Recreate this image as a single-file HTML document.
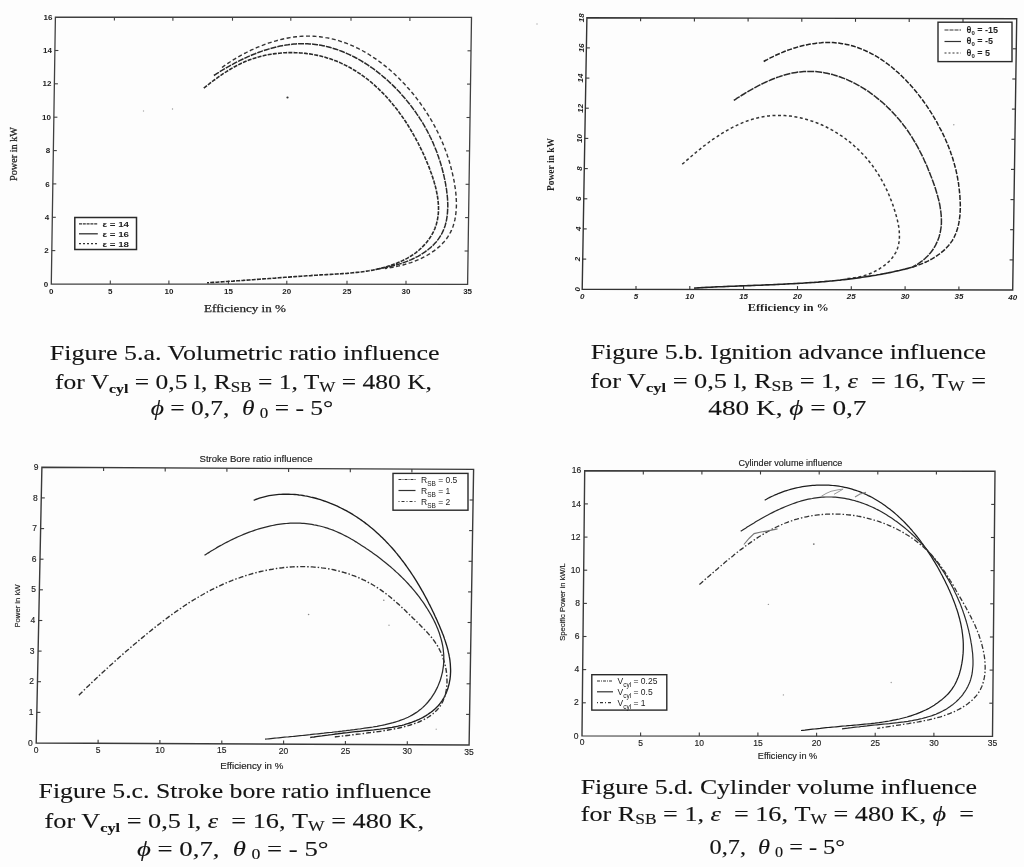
<!DOCTYPE html>
<html><head><meta charset="utf-8"><title>Figure 5</title>
<style>html,body{margin:0;padding:0;background:#fff;width:1024px;height:867px;overflow:hidden}svg{display:block}</style>
</head><body>
<svg width="1024" height="867" viewBox="0 0 1024 867">
<rect width="1024" height="867" fill="#fdfdfd"/>
<polygon points="55.4,17.1 471.5,17.4 467.6,284.4 51.3,284.0" fill="none" stroke="#404040" stroke-width="1.30"/>
<text x="51.3" y="293.5" text-anchor="middle" font-size="8" font-weight="bold" font-family="Liberation Sans, sans-serif" fill="#222">0</text>
<line x1="110.3" y1="284.1" x2="110.3" y2="280.6" stroke="#404040" stroke-width="1.1"/>
<line x1="114.4" y1="17.1" x2="114.4" y2="20.6" stroke="#404040" stroke-width="1.1"/>
<text x="110.3" y="293.6" text-anchor="middle" font-size="8" font-weight="bold" font-family="Liberation Sans, sans-serif" fill="#222">5</text>
<line x1="168.9" y1="284.1" x2="168.9" y2="280.6" stroke="#404040" stroke-width="1.1"/>
<line x1="172.9" y1="17.2" x2="172.9" y2="20.7" stroke="#404040" stroke-width="1.1"/>
<text x="168.9" y="293.6" text-anchor="middle" font-size="8" font-weight="bold" font-family="Liberation Sans, sans-serif" fill="#222">10</text>
<line x1="228.5" y1="284.2" x2="228.5" y2="280.7" stroke="#404040" stroke-width="1.1"/>
<line x1="232.5" y1="17.2" x2="232.5" y2="20.7" stroke="#404040" stroke-width="1.1"/>
<text x="228.5" y="293.7" text-anchor="middle" font-size="8" font-weight="bold" font-family="Liberation Sans, sans-serif" fill="#222">15</text>
<line x1="286.8" y1="284.2" x2="286.8" y2="280.7" stroke="#404040" stroke-width="1.1"/>
<line x1="290.8" y1="17.3" x2="290.8" y2="20.8" stroke="#404040" stroke-width="1.1"/>
<text x="286.8" y="293.7" text-anchor="middle" font-size="8" font-weight="bold" font-family="Liberation Sans, sans-serif" fill="#222">20</text>
<line x1="347.0" y1="284.3" x2="347.0" y2="280.8" stroke="#404040" stroke-width="1.1"/>
<line x1="351.0" y1="17.3" x2="351.0" y2="20.8" stroke="#404040" stroke-width="1.1"/>
<text x="347.0" y="293.8" text-anchor="middle" font-size="8" font-weight="bold" font-family="Liberation Sans, sans-serif" fill="#222">25</text>
<line x1="406.0" y1="284.3" x2="406.0" y2="280.8" stroke="#404040" stroke-width="1.1"/>
<line x1="409.9" y1="17.4" x2="409.9" y2="20.9" stroke="#404040" stroke-width="1.1"/>
<text x="406.0" y="293.8" text-anchor="middle" font-size="8" font-weight="bold" font-family="Liberation Sans, sans-serif" fill="#222">30</text>
<text x="467.6" y="293.9" text-anchor="middle" font-size="8" font-weight="bold" font-family="Liberation Sans, sans-serif" fill="#222">35</text>
<text x="48.3" y="286.6" text-anchor="end" font-size="8" font-weight="bold" font-family="Liberation Sans, sans-serif" fill="#222">0</text>
<line x1="51.8" y1="250.6" x2="55.3" y2="250.6" stroke="#404040" stroke-width="1.1"/>
<line x1="468.1" y1="251.0" x2="464.6" y2="251.0" stroke="#404040" stroke-width="1.1"/>
<text x="48.8" y="253.2" text-anchor="end" font-size="8" font-weight="bold" font-family="Liberation Sans, sans-serif" fill="#222">2</text>
<line x1="52.3" y1="217.3" x2="55.8" y2="217.3" stroke="#404040" stroke-width="1.1"/>
<line x1="468.6" y1="217.6" x2="465.1" y2="217.6" stroke="#404040" stroke-width="1.1"/>
<text x="49.3" y="219.9" text-anchor="end" font-size="8" font-weight="bold" font-family="Liberation Sans, sans-serif" fill="#222">4</text>
<line x1="52.8" y1="183.9" x2="56.3" y2="183.9" stroke="#404040" stroke-width="1.1"/>
<line x1="469.1" y1="184.3" x2="465.6" y2="184.3" stroke="#404040" stroke-width="1.1"/>
<text x="49.8" y="186.5" text-anchor="end" font-size="8" font-weight="bold" font-family="Liberation Sans, sans-serif" fill="#222">6</text>
<line x1="53.3" y1="150.6" x2="56.8" y2="150.6" stroke="#404040" stroke-width="1.1"/>
<line x1="469.6" y1="150.9" x2="466.1" y2="150.9" stroke="#404040" stroke-width="1.1"/>
<text x="50.3" y="153.2" text-anchor="end" font-size="8" font-weight="bold" font-family="Liberation Sans, sans-serif" fill="#222">8</text>
<line x1="53.9" y1="117.2" x2="57.4" y2="117.2" stroke="#404040" stroke-width="1.1"/>
<line x1="470.0" y1="117.5" x2="466.5" y2="117.5" stroke="#404040" stroke-width="1.1"/>
<text x="50.9" y="119.8" text-anchor="end" font-size="8" font-weight="bold" font-family="Liberation Sans, sans-serif" fill="#222">10</text>
<line x1="54.4" y1="83.8" x2="57.9" y2="83.8" stroke="#404040" stroke-width="1.1"/>
<line x1="470.5" y1="84.1" x2="467.0" y2="84.1" stroke="#404040" stroke-width="1.1"/>
<text x="51.4" y="86.4" text-anchor="end" font-size="8" font-weight="bold" font-family="Liberation Sans, sans-serif" fill="#222">12</text>
<line x1="54.9" y1="50.5" x2="58.4" y2="50.5" stroke="#404040" stroke-width="1.1"/>
<line x1="471.0" y1="50.8" x2="467.5" y2="50.8" stroke="#404040" stroke-width="1.1"/>
<text x="51.9" y="53.1" text-anchor="end" font-size="8" font-weight="bold" font-family="Liberation Sans, sans-serif" fill="#222">14</text>
<text x="52.4" y="19.7" text-anchor="end" font-size="8" font-weight="bold" font-family="Liberation Sans, sans-serif" fill="#222">16</text>
<text transform="translate(17.0,154.0) rotate(-90)" font-size="11.00" font-family="'Liberation Serif', serif" text-anchor="middle" textLength="54.0" lengthAdjust="spacingAndGlyphs" fill="#222" stroke="#222" stroke-width="0.25">Power in kW</text>
<text x="204.0" y="312.0" font-size="11.00" font-family="'Liberation Serif', serif" text-anchor="start" textLength="82.0" lengthAdjust="spacingAndGlyphs" fill="#222" stroke="#222" stroke-width="0.25">Efficiency in %</text>
<path d="M203.8,88.0 L205.4,86.8 L207.0,85.5 L208.6,84.3 L210.1,83.1 L211.7,81.9 L213.4,80.7 L215.0,79.5 L216.6,78.3 L218.2,77.1 L219.9,76.0 L221.5,74.9 L223.2,73.7 L224.8,72.6 L226.5,71.6 L228.2,70.5 L229.9,69.5 L231.7,68.4 L233.4,67.4 L235.1,66.5 L236.9,65.5 L238.7,64.6 L240.5,63.7 L242.3,62.9 L244.1,62.1 L245.9,61.3 L247.8,60.5 L249.7,59.8 L251.6,59.1 L253.5,58.5 L255.4,57.9 L257.4,57.3 L259.3,56.8 L261.3,56.2 L263.2,55.8 L265.2,55.3 L267.2,54.9 L269.2,54.5 L271.2,54.2 L273.2,53.9 L275.3,53.6 L277.3,53.4 L279.3,53.2 L281.4,53.0 L283.4,52.8 L285.4,52.7 L287.5,52.6 L289.5,52.6 L291.5,52.6 L293.6,52.6 L295.6,52.7 L297.6,52.7 L299.7,52.9 L301.7,53.0 L303.7,53.2 L305.7,53.4 L307.7,53.7 L309.7,53.9 L311.7,54.2 L313.7,54.6 L315.6,55.0 L317.6,55.4 L319.5,55.8 L321.4,56.3 L323.3,56.8 L325.2,57.3 L327.1,57.9 L329.0,58.5 L330.8,59.1 L332.7,59.7 L334.5,60.4 L336.3,61.1 L338.1,61.9 L339.9,62.6 L341.6,63.4 L343.4,64.3 L345.1,65.1 L346.9,66.0 L348.6,66.9 L350.3,67.8 L352.0,68.8 L353.6,69.8 L355.3,70.8 L356.9,71.8 L358.5,72.9 L360.2,73.9 L361.8,75.1 L363.3,76.2 L364.9,77.3 L366.5,78.5 L368.0,79.7 L369.5,80.9 L371.1,82.2 L372.6,83.5 L374.0,84.7 L375.5,86.1 L377.0,87.4 L378.4,88.7 L379.8,90.1 L381.2,91.5 L382.6,92.9 L384.0,94.3 L385.4,95.8 L386.8,97.3 L388.1,98.7 L389.4,100.2 L390.7,101.8 L392.0,103.3 L393.3,104.9 L394.6,106.4 L395.8,108.0 L397.1,109.6 L398.3,111.2 L399.5,112.9 L400.7,114.5 L401.9,116.2 L403.1,117.9 L404.2,119.6 L405.4,121.3 L406.5,123.0 L407.6,124.7 L408.7,126.5 L409.8,128.2 L410.8,130.0 L411.9,131.8 L412.9,133.6 L413.9,135.4 L415.0,137.2 L415.9,139.0 L416.9,140.8 L417.9,142.7 L418.8,144.5 L419.8,146.4 L420.7,148.3 L421.6,150.1 L422.5,152.0 L423.4,153.9 L424.2,155.8 L425.1,157.7 L425.9,159.7 L426.7,161.6 L427.5,163.5 L428.3,165.4 L429.1,167.4 L429.8,169.3 L430.5,171.3 L431.3,173.2 L431.9,175.2 L432.6,177.1 L433.2,179.1 L433.9,181.1 L434.4,183.0 L435.0,185.0 L435.5,186.9 L436.0,188.9 L436.4,190.8 L436.8,192.8 L437.2,194.7 L437.5,196.7 L437.8,198.6 L438.0,200.5 L438.2,202.4 L438.4,204.4 L438.5,206.3 L438.5,208.1 L438.5,210.0 L438.4,211.9 L438.3,213.8 L438.1,215.6 L437.8,217.5 L437.5,219.3 L437.2,221.1 L436.7,222.9 L436.2,224.7 L435.6,226.4 L435.0,228.2 L434.3,229.9 L433.5,231.6 L432.6,233.3 L431.7,235.0 L430.7,236.6 L429.6,238.3 L428.5,239.9 L427.3,241.4 L426.1,242.9 L424.8,244.4 L423.4,245.9 L422.0,247.3 L420.6,248.7 L419.1,250.0 L417.5,251.3 L416.0,252.6 L414.3,253.8 L412.7,254.9 L411.0,256.0 L409.2,257.1 L407.5,258.1 L405.7,259.1 L403.8,260.0 L402.0,260.9 L400.1,261.8 L398.2,262.6 L396.3,263.4 L394.4,264.1 L392.4,264.8 L390.5,265.5 L388.5,266.1 L386.6,266.7 L384.6,267.3 L382.7,267.8 L380.7,268.3 L378.7,268.8 L376.8,269.3 L374.8,269.7 L372.8,270.1 L370.8,270.4 L368.8,270.8 L366.8,271.1 L364.8,271.4 L362.8,271.7 L360.8,272.0 L358.8,272.2 L356.8,272.4 L354.8,272.6 L352.8,272.8 L350.8,273.0 L348.8,273.2 L346.8,273.4 L344.8,273.5 L342.8,273.6 L340.8,273.8 L338.7,273.9 L336.7,274.0 L334.7,274.1 L332.7,274.3 L330.7,274.4 L328.7,274.5 L326.7,274.6 L324.7,274.7 L322.7,274.8 L320.7,274.9 L318.7,275.1 L316.7,275.2 L314.7,275.3 L312.7,275.4 L310.7,275.6 L308.8,275.7 L306.8,275.8 L304.8,276.0 L302.8,276.1 L300.8,276.2 L298.8,276.4 L296.8,276.5 L294.9,276.6 L292.9,276.8 L290.9,276.9 L288.9,277.1 L286.9,277.2 L284.9,277.3 L283.0,277.5 L281.0,277.6 L279.0,277.8 L277.0,277.9 L275.0,278.1 L273.0,278.2 L271.0,278.4 L269.1,278.5 L267.1,278.7 L265.1,278.8 L263.1,278.9 L261.1,279.1 L259.1,279.2 L257.1,279.4 L255.1,279.5 L253.1,279.7 L251.1,279.8 L249.1,280.0 L247.1,280.1 L245.1,280.2 L243.1,280.4 L241.1,280.5 L239.1,280.7 L237.1,280.8 L235.1,280.9 L233.1,281.1 L231.1,281.2 L229.1,281.3 L227.1,281.5 L225.1,281.6 L223.1,281.8 L221.1,281.9 L219.0,282.0 L217.0,282.2 L215.0,282.3 L213.0,282.4 L211.0,282.5 L209.0,282.7 L207.0,282.8" fill="none" stroke="#2a2a2a" stroke-width="1.60" stroke-dasharray="4 1.2" stroke-linecap="butt" stroke-linejoin="round" opacity="1.00"/>
<path d="M213.9,75.5 L215.6,74.4 L217.2,73.3 L218.9,72.3 L220.6,71.2 L222.3,70.2 L224.0,69.1 L225.8,68.1 L227.5,67.1 L229.3,66.1 L231.1,65.1 L232.9,64.2 L234.7,63.2 L236.5,62.2 L238.3,61.3 L240.1,60.4 L242.0,59.5 L243.8,58.6 L245.7,57.8 L247.5,56.9 L249.4,56.1 L251.3,55.3 L253.2,54.5 L255.1,53.8 L257.0,53.0 L258.9,52.3 L260.8,51.6 L262.7,50.9 L264.6,50.3 L266.6,49.7 L268.5,49.1 L270.5,48.5 L272.4,48.0 L274.3,47.5 L276.3,47.0 L278.2,46.5 L280.2,46.1 L282.2,45.7 L284.1,45.4 L286.1,45.0 L288.0,44.8 L290.0,44.5 L291.9,44.3 L293.9,44.1 L295.9,43.9 L297.8,43.8 L299.8,43.7 L301.7,43.7 L303.7,43.7 L305.6,43.7 L307.5,43.8 L309.5,43.9 L311.4,44.0 L313.4,44.2 L315.3,44.4 L317.2,44.7 L319.1,45.0 L321.0,45.3 L322.9,45.7 L324.8,46.1 L326.7,46.6 L328.6,47.0 L330.5,47.5 L332.4,48.1 L334.3,48.7 L336.1,49.3 L338.0,49.9 L339.8,50.6 L341.7,51.3 L343.5,52.0 L345.3,52.8 L347.1,53.6 L348.9,54.4 L350.7,55.2 L352.5,56.1 L354.3,57.0 L356.1,58.0 L357.8,58.9 L359.6,59.9 L361.3,60.9 L363.0,62.0 L364.8,63.0 L366.5,64.1 L368.1,65.2 L369.8,66.4 L371.5,67.5 L373.2,68.7 L374.8,69.9 L376.4,71.1 L378.0,72.4 L379.6,73.7 L381.2,74.9 L382.8,76.3 L384.4,77.6 L385.9,78.9 L387.5,80.3 L389.0,81.7 L390.5,83.1 L392.0,84.5 L393.4,85.9 L394.9,87.4 L396.3,88.8 L397.7,90.3 L399.2,91.8 L400.5,93.3 L401.9,94.9 L403.3,96.4 L404.6,97.9 L405.9,99.5 L407.2,101.1 L408.5,102.7 L409.8,104.3 L411.0,105.9 L412.2,107.5 L413.4,109.1 L414.6,110.8 L415.8,112.4 L416.9,114.1 L418.1,115.7 L419.2,117.4 L420.2,119.1 L421.3,120.7 L422.4,122.4 L423.4,124.1 L424.4,125.8 L425.4,127.6 L426.3,129.3 L427.3,131.0 L428.2,132.8 L429.1,134.5 L429.9,136.3 L430.8,138.0 L431.6,139.8 L432.5,141.6 L433.3,143.4 L434.0,145.2 L434.8,147.0 L435.5,148.9 L436.3,150.7 L437.0,152.5 L437.6,154.4 L438.3,156.3 L438.9,158.2 L439.6,160.1 L440.2,162.0 L440.8,163.9 L441.3,165.8 L441.9,167.8 L442.4,169.7 L442.9,171.7 L443.4,173.7 L443.9,175.7 L444.3,177.7 L444.8,179.8 L445.2,181.8 L445.6,183.8 L445.9,185.9 L446.3,188.0 L446.6,190.0 L446.8,192.1 L447.1,194.1 L447.3,196.2 L447.5,198.3 L447.6,200.3 L447.7,202.4 L447.8,204.4 L447.8,206.4 L447.7,208.4 L447.6,210.4 L447.5,212.4 L447.3,214.4 L447.1,216.3 L446.8,218.2 L446.5,220.1 L446.1,222.0 L445.6,223.9 L445.1,225.7 L444.5,227.4 L443.8,229.2 L443.1,230.9 L442.3,232.6 L441.5,234.2 L440.5,235.8 L439.5,237.4 L438.5,238.9 L437.4,240.4 L436.2,241.9 L434.9,243.3 L433.6,244.7 L432.3,246.0 L430.9,247.3 L429.4,248.5 L427.9,249.8 L426.3,250.9 L424.7,252.1 L423.1,253.2 L421.4,254.3 L419.7,255.3 L418.0,256.3 L416.2,257.2 L414.4,258.1 L412.6,259.0 L410.7,259.9 L408.8,260.7 L406.9,261.4 L405.0,262.1 L403.0,262.8 L401.1,263.5 L399.1,264.1 L397.1,264.7 L395.1,265.3 L393.1,265.8 L391.1,266.3 L389.0,266.8 L387.0,267.2 L385.0,267.6 L383.0,268.1 L381.0,268.4 L378.9,268.8 L376.9,269.2 L374.9,269.5" fill="none" stroke="#2a2a2a" stroke-width="1.50" stroke-dasharray="6 1" stroke-linecap="butt" stroke-linejoin="round" opacity="1.00"/>
<path d="M222.0,67.5 L223.5,66.4 L225.0,65.3 L226.6,64.2 L228.2,63.1 L229.9,62.0 L231.5,60.9 L233.2,59.9 L234.9,58.9 L236.6,57.8 L238.3,56.8 L240.1,55.8 L241.9,54.9 L243.7,53.9 L245.5,53.0 L247.3,52.0 L249.1,51.1 L251.0,50.2 L252.8,49.4 L254.7,48.5 L256.6,47.7 L258.5,46.9 L260.4,46.1 L262.4,45.4 L264.3,44.6 L266.2,43.9 L268.2,43.2 L270.2,42.6 L272.1,42.0 L274.1,41.4 L276.1,40.8 L278.1,40.2 L280.1,39.7 L282.1,39.2 L284.1,38.8 L286.1,38.4 L288.1,38.0 L290.1,37.6 L292.1,37.3 L294.1,37.0 L296.0,36.8 L298.0,36.6 L300.0,36.4 L302.0,36.2 L304.0,36.1 L306.0,36.1 L308.0,36.1 L309.9,36.1 L311.9,36.1 L313.9,36.2 L315.8,36.4 L317.8,36.5 L319.7,36.7 L321.6,37.0 L323.6,37.2 L325.5,37.6 L327.4,37.9 L329.3,38.3 L331.2,38.7 L333.1,39.1 L335.0,39.6 L336.8,40.1 L338.7,40.7 L340.6,41.3 L342.4,41.9 L344.2,42.5 L346.1,43.2 L347.9,43.9 L349.7,44.6 L351.5,45.4 L353.3,46.2 L355.1,47.0 L356.9,47.8 L358.6,48.7 L360.4,49.6 L362.1,50.5 L363.9,51.5 L365.6,52.5 L367.3,53.5 L369.0,54.5 L370.7,55.6 L372.3,56.7 L374.0,57.8 L375.7,58.9 L377.3,60.0 L378.9,61.2 L380.5,62.4 L382.2,63.6 L383.7,64.9 L385.3,66.1 L386.9,67.4 L388.4,68.7 L390.0,70.0 L391.5,71.3 L393.0,72.7 L394.5,74.1 L396.0,75.5 L397.5,76.9 L398.9,78.3 L400.3,79.7 L401.8,81.2 L403.2,82.7 L404.6,84.1 L405.9,85.6 L407.3,87.2 L408.7,88.7 L410.0,90.2 L411.3,91.8 L412.6,93.3 L413.9,94.9 L415.2,96.5 L416.4,98.1 L417.6,99.7 L418.9,101.4 L420.1,103.0 L421.2,104.6 L422.4,106.3 L423.5,107.9 L424.7,109.6 L425.8,111.3 L426.9,113.0 L427.9,114.6 L429.0,116.3 L430.0,118.1 L431.1,119.8 L432.1,121.5 L433.0,123.2 L434.0,125.0 L434.9,126.7 L435.9,128.5 L436.8,130.3 L437.7,132.0 L438.5,133.8 L439.4,135.6 L440.2,137.4 L441.0,139.2 L441.8,141.1 L442.6,142.9 L443.4,144.7 L444.1,146.6 L444.8,148.5 L445.5,150.3 L446.2,152.2 L446.9,154.1 L447.5,156.0 L448.2,157.9 L448.8,159.9 L449.4,161.8 L449.9,163.7 L450.5,165.7 L451.0,167.7 L451.5,169.6 L452.0,171.6 L452.5,173.6 L452.9,175.6 L453.4,177.6 L453.8,179.7 L454.2,181.7 L454.5,183.7 L454.8,185.8 L455.2,187.8 L455.4,189.9 L455.7,191.9 L455.9,194.0 L456.1,196.0 L456.2,198.1 L456.3,200.1 L456.4,202.1 L456.4,204.1 L456.4,206.1 L456.3,208.1 L456.2,210.1 L456.0,212.1 L455.8,214.0 L455.5,215.9 L455.2,217.8 L454.9,219.7 L454.4,221.6 L453.9,223.4 L453.4,225.2 L452.8,227.0 L452.1,228.7 L451.4,230.4 L450.6,232.1 L449.7,233.7 L448.8,235.3 L447.8,236.9 L446.7,238.5 L445.6,239.9 L444.4,241.4 L443.1,242.8 L441.8,244.2 L440.4,245.6 L439.0,246.9 L437.5,248.1 L436.0,249.4 L434.4,250.6 L432.8,251.7 L431.2,252.8 L429.5,253.9 L427.7,255.0 L426.0,256.0 L424.2,256.9 L422.3,257.8 L420.5,258.7 L418.6,259.6 L416.7,260.4 L414.8,261.2 L412.9,261.9 L410.9,262.6 L408.9,263.2 L407.0,263.8 L405.0,264.4 L403.0,265.0 L401.0,265.5 L399.0,265.9 L396.9,266.4 L394.9,266.8 L392.9,267.2 L390.9,267.6 L388.9,267.9 L386.9,268.2 L384.9,268.5" fill="none" stroke="#333" stroke-width="1.40" stroke-dasharray="4 2.5" stroke-linecap="butt" stroke-linejoin="round" opacity="1.00"/>
<rect x="74.8" y="217.5" width="61.7" height="32" fill="#fff" stroke="#2a2a2a" stroke-width="1.5"/>
<line x1="79" y1="223.9" x2="97.8" y2="223.9" stroke="#333" stroke-width="1.3" stroke-dasharray="3 0.8"/>
<text x="102.5" y="226.9" font-size="8.00" font-family="'Liberation Sans', sans-serif" text-anchor="start" textLength="26.5" lengthAdjust="spacingAndGlyphs" font-weight="bold" fill="#222">ε = 14</text>
<line x1="79" y1="233.8" x2="97.8" y2="233.8" stroke="#333" stroke-width="1.3"/>
<text x="102.5" y="236.8" font-size="8.00" font-family="'Liberation Sans', sans-serif" text-anchor="start" textLength="26.5" lengthAdjust="spacingAndGlyphs" font-weight="bold" fill="#222">ε = 16</text>
<line x1="79" y1="243.7" x2="97.8" y2="243.7" stroke="#333" stroke-width="1.3" stroke-dasharray="2 2"/>
<text x="102.5" y="246.7" font-size="8.00" font-family="'Liberation Sans', sans-serif" text-anchor="start" textLength="26.5" lengthAdjust="spacingAndGlyphs" font-weight="bold" fill="#222">ε = 18</text>
<polygon points="586.9,17.7 1016.7,18.7 1012.7,290.0 582.2,289.3" fill="none" stroke="#333" stroke-width="1.40"/>
<text x="582.2" y="298.8" text-anchor="middle" font-size="8" font-family="Liberation Sans, sans-serif" font-style="italic" font-weight="bold" fill="#222">0</text>
<line x1="636.0" y1="289.4" x2="636.0" y2="285.9" stroke="#333" stroke-width="1.1"/>
<line x1="640.6" y1="17.8" x2="640.6" y2="21.3" stroke="#333" stroke-width="1.1"/>
<text x="636.0" y="298.9" text-anchor="middle" font-size="8" font-family="Liberation Sans, sans-serif" font-style="italic" font-weight="bold" fill="#222">5</text>
<line x1="689.8" y1="289.5" x2="689.8" y2="286.0" stroke="#333" stroke-width="1.1"/>
<line x1="694.4" y1="17.9" x2="694.4" y2="21.4" stroke="#333" stroke-width="1.1"/>
<text x="689.8" y="299.0" text-anchor="middle" font-size="8" font-family="Liberation Sans, sans-serif" font-style="italic" font-weight="bold" fill="#222">10</text>
<line x1="743.6" y1="289.6" x2="743.6" y2="286.1" stroke="#333" stroke-width="1.1"/>
<line x1="748.1" y1="18.1" x2="748.1" y2="21.6" stroke="#333" stroke-width="1.1"/>
<text x="743.6" y="299.1" text-anchor="middle" font-size="8" font-family="Liberation Sans, sans-serif" font-style="italic" font-weight="bold" fill="#222">15</text>
<line x1="797.5" y1="289.6" x2="797.5" y2="286.1" stroke="#333" stroke-width="1.1"/>
<line x1="801.8" y1="18.2" x2="801.8" y2="21.7" stroke="#333" stroke-width="1.1"/>
<text x="797.5" y="299.1" text-anchor="middle" font-size="8" font-family="Liberation Sans, sans-serif" font-style="italic" font-weight="bold" fill="#222">20</text>
<line x1="851.3" y1="289.7" x2="851.3" y2="286.2" stroke="#333" stroke-width="1.1"/>
<line x1="855.5" y1="18.3" x2="855.5" y2="21.8" stroke="#333" stroke-width="1.1"/>
<text x="851.3" y="299.2" text-anchor="middle" font-size="8" font-family="Liberation Sans, sans-serif" font-style="italic" font-weight="bold" fill="#222">25</text>
<line x1="905.1" y1="289.8" x2="905.1" y2="286.3" stroke="#333" stroke-width="1.1"/>
<line x1="909.2" y1="18.4" x2="909.2" y2="21.9" stroke="#333" stroke-width="1.1"/>
<text x="905.1" y="299.3" text-anchor="middle" font-size="8" font-family="Liberation Sans, sans-serif" font-style="italic" font-weight="bold" fill="#222">30</text>
<line x1="958.9" y1="289.9" x2="958.9" y2="286.4" stroke="#333" stroke-width="1.1"/>
<line x1="963.0" y1="18.6" x2="963.0" y2="22.1" stroke="#333" stroke-width="1.1"/>
<text x="958.9" y="299.4" text-anchor="middle" font-size="8" font-family="Liberation Sans, sans-serif" font-style="italic" font-weight="bold" fill="#222">35</text>
<text x="1012.7" y="299.5" text-anchor="middle" font-size="8" font-family="Liberation Sans, sans-serif" font-style="italic" font-weight="bold" fill="#222">40</text>
<text transform="translate(579.7,289.3) rotate(-90)" text-anchor="middle" font-size="8" font-family="Liberation Sans, sans-serif" font-style="italic" font-weight="bold" fill="#222">0</text>
<line x1="582.7" y1="259.1" x2="586.2" y2="259.1" stroke="#333" stroke-width="1.1"/>
<line x1="1013.1" y1="259.9" x2="1009.6" y2="259.9" stroke="#333" stroke-width="1.1"/>
<text transform="translate(580.2,259.1) rotate(-90)" text-anchor="middle" font-size="8" font-family="Liberation Sans, sans-serif" font-style="italic" font-weight="bold" fill="#222">2</text>
<line x1="583.2" y1="228.9" x2="586.7" y2="228.9" stroke="#333" stroke-width="1.1"/>
<line x1="1013.6" y1="229.7" x2="1010.1" y2="229.7" stroke="#333" stroke-width="1.1"/>
<text transform="translate(580.7,228.9) rotate(-90)" text-anchor="middle" font-size="8" font-family="Liberation Sans, sans-serif" font-style="italic" font-weight="bold" fill="#222">4</text>
<line x1="583.8" y1="198.8" x2="587.3" y2="198.8" stroke="#333" stroke-width="1.1"/>
<line x1="1014.0" y1="199.6" x2="1010.5" y2="199.6" stroke="#333" stroke-width="1.1"/>
<text transform="translate(581.3,198.8) rotate(-90)" text-anchor="middle" font-size="8" font-family="Liberation Sans, sans-serif" font-style="italic" font-weight="bold" fill="#222">6</text>
<line x1="584.3" y1="168.6" x2="587.8" y2="168.6" stroke="#333" stroke-width="1.1"/>
<line x1="1014.5" y1="169.4" x2="1011.0" y2="169.4" stroke="#333" stroke-width="1.1"/>
<text transform="translate(581.8,168.6) rotate(-90)" text-anchor="middle" font-size="8" font-family="Liberation Sans, sans-serif" font-style="italic" font-weight="bold" fill="#222">8</text>
<line x1="584.8" y1="138.4" x2="588.3" y2="138.4" stroke="#333" stroke-width="1.1"/>
<line x1="1014.9" y1="139.3" x2="1011.4" y2="139.3" stroke="#333" stroke-width="1.1"/>
<text transform="translate(582.3,138.4) rotate(-90)" text-anchor="middle" font-size="8" font-family="Liberation Sans, sans-serif" font-style="italic" font-weight="bold" fill="#222">10</text>
<line x1="585.3" y1="108.2" x2="588.8" y2="108.2" stroke="#333" stroke-width="1.1"/>
<line x1="1015.4" y1="109.1" x2="1011.9" y2="109.1" stroke="#333" stroke-width="1.1"/>
<text transform="translate(582.8,108.2) rotate(-90)" text-anchor="middle" font-size="8" font-family="Liberation Sans, sans-serif" font-style="italic" font-weight="bold" fill="#222">12</text>
<line x1="585.9" y1="78.1" x2="589.4" y2="78.1" stroke="#333" stroke-width="1.1"/>
<line x1="1015.8" y1="79.0" x2="1012.3" y2="79.0" stroke="#333" stroke-width="1.1"/>
<text transform="translate(583.4,78.1) rotate(-90)" text-anchor="middle" font-size="8" font-family="Liberation Sans, sans-serif" font-style="italic" font-weight="bold" fill="#222">14</text>
<line x1="586.4" y1="47.9" x2="589.9" y2="47.9" stroke="#333" stroke-width="1.1"/>
<line x1="1016.3" y1="48.8" x2="1012.8" y2="48.8" stroke="#333" stroke-width="1.1"/>
<text transform="translate(583.9,47.9) rotate(-90)" text-anchor="middle" font-size="8" font-family="Liberation Sans, sans-serif" font-style="italic" font-weight="bold" fill="#222">16</text>
<text transform="translate(584.4,17.7) rotate(-90)" text-anchor="middle" font-size="8" font-family="Liberation Sans, sans-serif" font-style="italic" font-weight="bold" fill="#222">18</text>
<text transform="translate(553.5,164.6) rotate(-90)" font-size="11.00" font-family="'Liberation Serif', serif" text-anchor="middle" textLength="53.0" lengthAdjust="spacingAndGlyphs" fill="#222" font-weight="bold">Power in kW</text>
<text x="747.8" y="311.3" font-size="11.00" font-family="'Liberation Serif', serif" text-anchor="start" textLength="81.0" lengthAdjust="spacingAndGlyphs" fill="#222" font-weight="bold">Efficiency in %</text>
<path d="M763.7,61.5 L765.4,60.5 L767.2,59.6 L769.0,58.6 L770.8,57.7 L772.6,56.8 L774.4,55.9 L776.3,55.0 L778.1,54.2 L780.0,53.4 L781.9,52.6 L783.8,51.8 L785.7,51.0 L787.6,50.3 L789.6,49.6 L791.5,49.0 L793.5,48.3 L795.4,47.7 L797.4,47.1 L799.3,46.6 L801.3,46.1 L803.3,45.6 L805.3,45.1 L807.3,44.7 L809.2,44.3 L811.2,44.0 L813.2,43.7 L815.2,43.4 L817.2,43.1 L819.2,42.9 L821.2,42.8 L823.1,42.6 L825.1,42.6 L827.1,42.5 L829.0,42.5 L831.0,42.5 L833.0,42.6 L834.9,42.7 L836.8,42.9 L838.8,43.1 L840.7,43.4 L842.6,43.7 L844.5,44.0 L846.4,44.4 L848.3,44.8 L850.1,45.3 L852.0,45.8 L853.8,46.3 L855.7,46.9 L857.5,47.5 L859.3,48.2 L861.1,48.9 L862.9,49.6 L864.7,50.4 L866.5,51.2 L868.2,52.0 L870.0,52.9 L871.7,53.8 L873.4,54.7 L875.2,55.7 L876.9,56.7 L878.5,57.7 L880.2,58.8 L881.9,59.9 L883.5,61.0 L885.2,62.2 L886.8,63.3 L888.4,64.5 L890.0,65.8 L891.6,67.0 L893.1,68.3 L894.7,69.6 L896.2,71.0 L897.8,72.3 L899.3,73.7 L900.8,75.1 L902.2,76.5 L903.7,78.0 L905.2,79.4 L906.6,80.9 L908.0,82.4 L909.4,83.9 L910.8,85.5 L912.2,87.0 L913.5,88.6 L914.9,90.2 L916.2,91.8 L917.5,93.4 L918.8,95.1 L920.1,96.7 L921.3,98.4 L922.6,100.0 L923.8,101.7 L925.0,103.4 L926.2,105.1 L927.4,106.9 L928.5,108.6 L929.6,110.3 L930.8,112.1 L931.9,113.8 L932.9,115.6 L934.0,117.4 L935.0,119.1 L936.1,120.9 L937.1,122.7 L938.0,124.5 L939.0,126.3 L939.9,128.1 L940.9,129.8 L941.8,131.6 L942.7,133.4 L943.5,135.2 L944.4,137.0 L945.2,138.8 L946.0,140.7 L946.8,142.5 L947.5,144.3 L948.3,146.1 L949.0,147.9 L949.7,149.7 L950.4,151.6 L951.0,153.4 L951.7,155.3 L952.3,157.1 L952.9,159.0 L953.4,160.8 L954.0,162.7 L954.5,164.6 L955.0,166.5 L955.5,168.3 L956.0,170.3 L956.4,172.2 L956.8,174.1 L957.2,176.0 L957.6,178.0 L957.9,179.9 L958.3,181.9 L958.6,183.9 L958.8,185.9 L959.1,187.9 L959.3,189.9 L959.5,191.9 L959.7,193.9 L959.9,196.0 L960.0,198.1 L960.1,200.1 L960.2,202.2 L960.3,204.3 L960.3,206.4 L960.3,208.5 L960.2,210.5 L960.1,212.6 L960.0,214.7 L959.8,216.7 L959.5,218.7 L959.2,220.7 L958.9,222.7 L958.5,224.7 L958.0,226.6 L957.5,228.5 L956.9,230.4 L956.3,232.2 L955.6,234.0 L954.8,235.8 L954.0,237.5 L953.1,239.2 L952.1,240.8 L951.0,242.4 L949.9,243.9 L948.7,245.4 L947.4,246.8 L946.1,248.2 L944.7,249.6 L943.3,250.9 L941.8,252.1 L940.3,253.3 L938.7,254.5 L937.1,255.7 L935.5,256.8 L933.7,257.8 L932.0,258.8 L930.2,259.8 L928.4,260.8 L926.6,261.7 L924.7,262.5 L922.8,263.4 L920.9,264.1 L918.9,264.9 L917.0,265.6 L915.0,266.3 L913.0,267.0 L911.0,267.6" fill="none" stroke="#222" stroke-width="1.50" stroke-dasharray="5 1.5" stroke-linecap="butt" stroke-linejoin="round" opacity="1.00"/>
<path d="M733.8,100.4 L735.5,99.3 L737.1,98.2 L738.8,97.2 L740.5,96.1 L742.2,95.0 L743.9,94.0 L745.6,92.9 L747.4,91.9 L749.1,90.8 L750.9,89.8 L752.7,88.8 L754.5,87.8 L756.3,86.8 L758.1,85.9 L760.0,84.9 L761.8,84.0 L763.6,83.1 L765.5,82.2 L767.4,81.4 L769.3,80.6 L771.1,79.8 L773.0,79.0 L774.9,78.3 L776.8,77.5 L778.7,76.9 L780.7,76.2 L782.6,75.6 L784.5,75.0 L786.4,74.5 L788.4,74.0 L790.3,73.5 L792.3,73.1 L794.2,72.7 L796.1,72.4 L798.1,72.1 L800.0,71.9 L802.0,71.7 L803.9,71.5 L805.9,71.4 L807.8,71.4 L809.7,71.4 L811.7,71.4 L813.6,71.5 L815.6,71.6 L817.5,71.8 L819.4,72.0 L821.3,72.3 L823.3,72.6 L825.2,72.9 L827.1,73.3 L829.0,73.7 L830.9,74.2 L832.8,74.6 L834.7,75.2 L836.5,75.8 L838.4,76.4 L840.3,77.0 L842.1,77.7 L844.0,78.4 L845.8,79.2 L847.6,79.9 L849.4,80.8 L851.3,81.6 L853.0,82.5 L854.8,83.4 L856.6,84.3 L858.4,85.3 L860.1,86.3 L861.8,87.3 L863.6,88.4 L865.3,89.5 L867.0,90.6 L868.7,91.7 L870.3,92.9 L872.0,94.1 L873.6,95.3 L875.2,96.5 L876.8,97.8 L878.4,99.1 L880.0,100.4 L881.5,101.7 L883.1,103.0 L884.6,104.4 L886.1,105.8 L887.5,107.2 L889.0,108.6 L890.4,110.0 L891.8,111.5 L893.2,112.9 L894.6,114.4 L896.0,115.9 L897.3,117.4 L898.6,118.9 L899.9,120.5 L901.1,122.0 L902.4,123.6 L903.6,125.2 L904.8,126.7 L905.9,128.3 L907.1,129.9 L908.2,131.5 L909.3,133.2 L910.4,134.8 L911.5,136.5 L912.5,138.1 L913.5,139.8 L914.5,141.5 L915.5,143.2 L916.5,144.9 L917.5,146.6 L918.4,148.4 L919.3,150.1 L920.2,151.9 L921.1,153.6 L922.0,155.4 L922.9,157.2 L923.7,159.0 L924.5,160.8 L925.4,162.6 L926.2,164.5 L927.0,166.3 L927.8,168.2 L928.5,170.1 L929.3,172.0 L930.1,173.9 L930.8,175.8 L931.6,177.7 L932.3,179.7 L933.0,181.6 L933.7,183.6 L934.4,185.6 L935.1,187.5 L935.7,189.5 L936.3,191.5 L936.9,193.5 L937.5,195.5 L938.0,197.5 L938.6,199.5 L939.0,201.5 L939.5,203.5 L939.9,205.5 L940.2,207.5 L940.5,209.5 L940.8,211.5 L941.0,213.5 L941.2,215.4 L941.3,217.4 L941.4,219.4 L941.4,221.3 L941.4,223.2 L941.3,225.2 L941.1,227.1 L940.8,229.0 L940.5,230.8 L940.2,232.7 L939.7,234.5 L939.2,236.4 L938.6,238.2 L938.0,239.9 L937.2,241.7 L936.4,243.4 L935.6,245.1 L934.6,246.8 L933.7,248.4 L932.6,250.0 L931.5,251.5 L930.3,253.0 L929.0,254.5 L927.7,256.0 L926.3,257.3 L924.8,258.7 L923.3,260.0 L921.8,261.2 L920.1,262.4 L918.4,263.6 L916.7,264.7 L914.9,265.7 L913.0,266.7 L911.1,267.6" fill="none" stroke="#2a2a2a" stroke-width="1.50" stroke-dasharray="7 1" stroke-linecap="butt" stroke-linejoin="round" opacity="1.00"/>
<path d="M682.2,164.2 L683.7,163.0 L685.1,161.7 L686.6,160.4 L688.1,159.1 L689.5,157.8 L691.1,156.5 L692.6,155.2 L694.1,153.9 L695.7,152.6 L697.2,151.3 L698.8,150.1 L700.4,148.8 L702.0,147.5 L703.6,146.2 L705.3,145.0 L706.9,143.8 L708.6,142.5 L710.3,141.3 L711.9,140.1 L713.6,138.9 L715.3,137.7 L717.1,136.6 L718.8,135.5 L720.5,134.3 L722.3,133.2 L724.1,132.2 L725.8,131.1 L727.6,130.1 L729.4,129.1 L731.2,128.1 L733.0,127.2 L734.9,126.3 L736.7,125.4 L738.5,124.5 L740.4,123.7 L742.2,122.9 L744.1,122.1 L746.0,121.4 L747.8,120.7 L749.7,120.1 L751.6,119.5 L753.5,118.9 L755.4,118.4 L757.3,117.9 L759.3,117.4 L761.2,117.0 L763.1,116.7 L765.1,116.4 L767.0,116.1 L768.9,115.9 L770.9,115.7 L772.8,115.6 L774.8,115.5 L776.7,115.4 L778.7,115.4 L780.6,115.4 L782.6,115.5 L784.5,115.6 L786.5,115.7 L788.4,115.9 L790.4,116.1 L792.3,116.4 L794.3,116.7 L796.2,117.0 L798.1,117.4 L800.1,117.8 L802.0,118.2 L803.9,118.7 L805.8,119.2 L807.7,119.8 L809.6,120.3 L811.5,121.0 L813.4,121.6 L815.3,122.3 L817.1,123.0 L819.0,123.7 L820.8,124.5 L822.7,125.3 L824.5,126.2 L826.3,127.0 L828.1,128.0 L829.9,128.9 L831.6,129.8 L833.4,130.8 L835.1,131.9 L836.8,132.9 L838.6,134.0 L840.2,135.1 L841.9,136.2 L843.6,137.4 L845.2,138.5 L846.8,139.8 L848.4,141.0 L850.0,142.2 L851.6,143.5 L853.1,144.8 L854.6,146.2 L856.1,147.5 L857.6,148.9 L859.1,150.3 L860.5,151.7 L861.9,153.2 L863.3,154.6 L864.6,156.1 L866.0,157.6 L867.3,159.1 L868.6,160.7 L869.8,162.2 L871.1,163.8 L872.3,165.4 L873.4,167.0 L874.6,168.7 L875.7,170.3 L876.8,172.0 L877.9,173.7 L879.0,175.4 L880.0,177.1 L881.0,178.9 L882.0,180.6 L883.0,182.4 L883.9,184.2 L884.8,186.0 L885.7,187.8 L886.6,189.6 L887.5,191.5 L888.3,193.3 L889.1,195.2 L889.9,197.1 L890.6,199.0 L891.4,200.9 L892.1,202.8 L892.8,204.8 L893.5,206.7 L894.1,208.7 L894.7,210.6 L895.3,212.6 L895.9,214.6 L896.5,216.6 L897.0,218.6 L897.5,220.6 L897.9,222.6 L898.3,224.5 L898.7,226.5 L898.9,228.5 L899.2,230.5 L899.3,232.4 L899.4,234.4 L899.4,236.3 L899.4,238.2 L899.2,240.1 L899.0,242.0 L898.7,243.8 L898.3,245.6 L897.8,247.4 L897.2,249.2 L896.5,250.9 L895.7,252.6 L894.7,254.2 L893.7,255.8 L892.6,257.4 L891.3,258.9 L890.0,260.4 L888.6,261.9 L887.1,263.2 L885.5,264.6 L883.8,265.8 L882.1,267.1 L880.4,268.2 L878.6,269.4 L876.7,270.4 L874.8,271.4 L872.9,272.4 L871.0,273.2 L869.0,274.0 L867.0,274.8 L865.0,275.4 L863.1,276.0 L861.1,276.6 L859.1,277.0 L857.2,277.4 L855.2,277.7 L853.3,278.0 L851.4,278.2 L849.4,278.4 L847.5,278.6 L845.6,278.7" fill="none" stroke="#333" stroke-width="1.50" stroke-dasharray="3 2.5" stroke-linecap="butt" stroke-linejoin="round" opacity="1.00"/>
<path d="M911.0,267.6 L909.1,268.1 L907.1,268.6 L905.2,269.1 L903.2,269.5 L901.3,270.0 L899.3,270.5 L897.4,270.9 L895.4,271.3 L893.5,271.8 L891.5,272.2 L889.6,272.6 L887.6,273.0 L885.6,273.4 L883.7,273.7 L881.7,274.1 L879.8,274.5 L877.8,274.8 L875.8,275.2 L873.8,275.5 L871.9,275.8 L869.9,276.1 L867.9,276.4 L866.0,276.7 L864.0,277.0 L862.0,277.3 L860.0,277.6 L858.1,277.9 L856.1,278.2 L854.1,278.4 L852.1,278.7 L850.1,278.9 L848.2,279.2 L846.2,279.4 L844.2,279.6 L842.2,279.8 L840.2,280.1 L838.2,280.3 L836.2,280.5 L834.2,280.7 L832.3,280.9 L830.3,281.0 L828.3,281.2 L826.3,281.4 L824.3,281.6 L822.3,281.7 L820.3,281.9 L818.3,282.1 L816.3,282.2 L814.3,282.4 L812.3,282.5 L810.3,282.6 L808.3,282.8 L806.3,282.9 L804.3,283.0 L802.3,283.2 L800.3,283.3 L798.3,283.4 L796.3,283.5 L794.3,283.6 L792.3,283.7 L790.3,283.8 L788.3,283.9 L786.3,284.0 L784.3,284.1 L782.3,284.2 L780.3,284.3 L778.3,284.4 L776.3,284.5 L774.3,284.6 L772.3,284.7 L770.3,284.8 L768.3,284.9 L766.2,284.9 L764.2,285.0 L762.2,285.1 L760.2,285.2 L758.2,285.3 L756.2,285.3 L754.2,285.4 L752.2,285.5 L750.2,285.6 L748.2,285.6 L746.2,285.7 L744.2,285.8 L742.2,285.9 L740.2,285.9 L738.2,286.0 L736.1,286.1 L734.1,286.2 L732.1,286.3 L730.1,286.3 L728.1,286.4 L726.1,286.5 L724.1,286.6 L722.1,286.7 L720.1,286.8 L718.1,286.8 L716.1,286.9 L714.1,287.0 L712.1,287.1 L710.1,287.2 L708.1,287.3 L706.1,287.4 L704.1,287.5 L702.1,287.6 L700.1,287.8 L698.1,287.9 L696.1,288.0 L694.1,288.1" fill="none" stroke="#222" stroke-width="1.60" stroke-linecap="butt" stroke-linejoin="round" opacity="1.00"/>
<rect x="938" y="22.2" width="74" height="39.4" fill="#fff" stroke="#2a2a2a" stroke-width="1.4"/>
<line x1="944.5" y1="30.0" x2="961" y2="30.0" stroke="#333" stroke-width="1.2" stroke-dasharray="4 1"/>
<text x="966.5" y="32.5" font-size="9" font-family="Liberation Sans, sans-serif" font-weight="bold" fill="#222">θ<tspan font-size="6" dy="2">0</tspan><tspan dy="-2"> = -15</tspan></text>
<line x1="944.5" y1="41.5" x2="961" y2="41.5" stroke="#333" stroke-width="1.2"/>
<text x="966.5" y="44.0" font-size="9" font-family="Liberation Sans, sans-serif" font-weight="bold" fill="#222">θ<tspan font-size="6" dy="2">0</tspan><tspan dy="-2"> = -5</tspan></text>
<line x1="944.5" y1="53.0" x2="961" y2="53.0" stroke="#333" stroke-width="1.2" stroke-dasharray="2 2"/>
<text x="966.5" y="55.5" font-size="9" font-family="Liberation Sans, sans-serif" font-weight="bold" fill="#222">θ<tspan font-size="6" dy="2">0</tspan><tspan dy="-2"> = 5</tspan></text>
<polygon points="41.9,467.3 473.6,469.4 469.1,745.0 36.2,743.0" fill="none" stroke="#3a3a3a" stroke-width="1.40"/>
<text x="36.2" y="752.5" text-anchor="middle" font-size="8.5" font-family="Liberation Sans, sans-serif" fill="#222" stroke="#222" stroke-width="0.15">0</text>
<line x1="98.1" y1="743.3" x2="98.1" y2="739.8" stroke="#3a3a3a" stroke-width="1.1"/>
<line x1="103.6" y1="467.6" x2="103.6" y2="471.1" stroke="#3a3a3a" stroke-width="1.1"/>
<text x="98.1" y="752.8" text-anchor="middle" font-size="8.5" font-family="Liberation Sans, sans-serif" fill="#222" stroke="#222" stroke-width="0.15">5</text>
<line x1="159.9" y1="743.6" x2="159.9" y2="740.1" stroke="#3a3a3a" stroke-width="1.1"/>
<line x1="165.2" y1="467.9" x2="165.2" y2="471.4" stroke="#3a3a3a" stroke-width="1.1"/>
<text x="159.9" y="753.1" text-anchor="middle" font-size="8.5" font-family="Liberation Sans, sans-serif" fill="#222" stroke="#222" stroke-width="0.15">10</text>
<line x1="221.8" y1="743.9" x2="221.8" y2="740.4" stroke="#3a3a3a" stroke-width="1.1"/>
<line x1="226.9" y1="468.2" x2="226.9" y2="471.7" stroke="#3a3a3a" stroke-width="1.1"/>
<text x="221.8" y="753.4" text-anchor="middle" font-size="8.5" font-family="Liberation Sans, sans-serif" fill="#222" stroke="#222" stroke-width="0.15">15</text>
<line x1="283.6" y1="744.1" x2="283.6" y2="740.6" stroke="#3a3a3a" stroke-width="1.1"/>
<line x1="288.6" y1="468.5" x2="288.6" y2="472.0" stroke="#3a3a3a" stroke-width="1.1"/>
<text x="283.6" y="753.6" text-anchor="middle" font-size="8.5" font-family="Liberation Sans, sans-serif" fill="#222" stroke="#222" stroke-width="0.15">20</text>
<line x1="345.4" y1="744.4" x2="345.4" y2="740.9" stroke="#3a3a3a" stroke-width="1.1"/>
<line x1="350.3" y1="468.8" x2="350.3" y2="472.3" stroke="#3a3a3a" stroke-width="1.1"/>
<text x="345.4" y="753.9" text-anchor="middle" font-size="8.5" font-family="Liberation Sans, sans-serif" fill="#222" stroke="#222" stroke-width="0.15">25</text>
<line x1="407.3" y1="744.7" x2="407.3" y2="741.2" stroke="#3a3a3a" stroke-width="1.1"/>
<line x1="411.9" y1="469.1" x2="411.9" y2="472.6" stroke="#3a3a3a" stroke-width="1.1"/>
<text x="407.3" y="754.2" text-anchor="middle" font-size="8.5" font-family="Liberation Sans, sans-serif" fill="#222" stroke="#222" stroke-width="0.15">30</text>
<text x="469.1" y="754.5" text-anchor="middle" font-size="8.5" font-family="Liberation Sans, sans-serif" fill="#222" stroke="#222" stroke-width="0.15">35</text>
<text x="32.8" y="745.6" text-anchor="end" font-size="8.5" font-family="Liberation Sans, sans-serif" fill="#222" stroke="#222" stroke-width="0.15">0</text>
<line x1="36.9" y1="712.4" x2="40.4" y2="712.4" stroke="#3a3a3a" stroke-width="1.1"/>
<line x1="469.6" y1="714.4" x2="466.1" y2="714.4" stroke="#3a3a3a" stroke-width="1.1"/>
<text x="33.4" y="715.0" text-anchor="end" font-size="8.5" font-family="Liberation Sans, sans-serif" fill="#222" stroke="#222" stroke-width="0.15">1</text>
<line x1="37.5" y1="681.7" x2="41.0" y2="681.7" stroke="#3a3a3a" stroke-width="1.1"/>
<line x1="470.1" y1="683.8" x2="466.6" y2="683.8" stroke="#3a3a3a" stroke-width="1.1"/>
<text x="34.0" y="684.3" text-anchor="end" font-size="8.5" font-family="Liberation Sans, sans-serif" fill="#222" stroke="#222" stroke-width="0.15">2</text>
<line x1="38.1" y1="651.1" x2="41.6" y2="651.1" stroke="#3a3a3a" stroke-width="1.1"/>
<line x1="470.6" y1="653.1" x2="467.1" y2="653.1" stroke="#3a3a3a" stroke-width="1.1"/>
<text x="34.6" y="653.7" text-anchor="end" font-size="8.5" font-family="Liberation Sans, sans-serif" fill="#222" stroke="#222" stroke-width="0.15">3</text>
<line x1="38.8" y1="620.5" x2="42.3" y2="620.5" stroke="#3a3a3a" stroke-width="1.1"/>
<line x1="471.1" y1="622.5" x2="467.6" y2="622.5" stroke="#3a3a3a" stroke-width="1.1"/>
<text x="35.3" y="623.1" text-anchor="end" font-size="8.5" font-family="Liberation Sans, sans-serif" fill="#222" stroke="#222" stroke-width="0.15">4</text>
<line x1="39.4" y1="589.8" x2="42.9" y2="589.8" stroke="#3a3a3a" stroke-width="1.1"/>
<line x1="471.6" y1="591.9" x2="468.1" y2="591.9" stroke="#3a3a3a" stroke-width="1.1"/>
<text x="35.9" y="592.4" text-anchor="end" font-size="8.5" font-family="Liberation Sans, sans-serif" fill="#222" stroke="#222" stroke-width="0.15">5</text>
<line x1="40.0" y1="559.2" x2="43.5" y2="559.2" stroke="#3a3a3a" stroke-width="1.1"/>
<line x1="472.1" y1="561.3" x2="468.6" y2="561.3" stroke="#3a3a3a" stroke-width="1.1"/>
<text x="36.5" y="561.8" text-anchor="end" font-size="8.5" font-family="Liberation Sans, sans-serif" fill="#222" stroke="#222" stroke-width="0.15">6</text>
<line x1="40.6" y1="528.6" x2="44.1" y2="528.6" stroke="#3a3a3a" stroke-width="1.1"/>
<line x1="472.6" y1="530.6" x2="469.1" y2="530.6" stroke="#3a3a3a" stroke-width="1.1"/>
<text x="37.1" y="531.2" text-anchor="end" font-size="8.5" font-family="Liberation Sans, sans-serif" fill="#222" stroke="#222" stroke-width="0.15">7</text>
<line x1="41.3" y1="497.9" x2="44.8" y2="497.9" stroke="#3a3a3a" stroke-width="1.1"/>
<line x1="473.1" y1="500.0" x2="469.6" y2="500.0" stroke="#3a3a3a" stroke-width="1.1"/>
<text x="37.8" y="500.5" text-anchor="end" font-size="8.5" font-family="Liberation Sans, sans-serif" fill="#222" stroke="#222" stroke-width="0.15">8</text>
<text x="38.4" y="469.9" text-anchor="end" font-size="8.5" font-family="Liberation Sans, sans-serif" fill="#222" stroke="#222" stroke-width="0.15">9</text>
<text transform="translate(19.5,606.0) rotate(-90)" font-size="8.00" font-family="'Liberation Sans', sans-serif" text-anchor="middle" textLength="43.0" lengthAdjust="spacingAndGlyphs" fill="#222" stroke="#222" stroke-width="0.15">Power in kW</text>
<text x="220.3" y="769.4" font-size="8.50" font-family="'Liberation Sans', sans-serif" text-anchor="start" textLength="63.0" lengthAdjust="spacingAndGlyphs" fill="#222" stroke="#222" stroke-width="0.15">Efficiency in %</text>
<text x="199.5" y="461.9" font-size="8.80" font-family="'Liberation Sans', sans-serif" text-anchor="start" textLength="113.0" lengthAdjust="spacingAndGlyphs" fill="#222" stroke="#222" stroke-width="0.15">Stroke Bore ratio influence</text>
<path d="M253.7,500.3 L255.6,499.5 L257.5,498.8 L259.4,498.2 L261.3,497.6 L263.3,497.1 L265.2,496.6 L267.1,496.1 L269.1,495.7 L271.1,495.4 L273.0,495.1 L275.0,494.8 L277.0,494.6 L279.0,494.4 L281.0,494.3 L282.9,494.2 L284.9,494.2 L286.9,494.2 L288.9,494.2 L290.9,494.3 L292.9,494.4 L294.9,494.5 L296.9,494.7 L298.9,495.0 L300.9,495.2 L302.9,495.5 L304.8,495.9 L306.8,496.2 L308.8,496.6 L310.7,497.1 L312.7,497.5 L314.7,498.0 L316.6,498.5 L318.5,499.1 L320.5,499.7 L322.4,500.3 L324.3,501.0 L326.2,501.6 L328.1,502.3 L330.0,503.1 L331.8,503.8 L333.7,504.6 L335.5,505.4 L337.3,506.2 L339.1,507.1 L340.9,508.0 L342.7,508.9 L344.5,509.8 L346.2,510.7 L347.9,511.7 L349.7,512.7 L351.4,513.7 L353.1,514.7 L354.7,515.7 L356.4,516.8 L358.0,517.9 L359.7,519.0 L361.3,520.1 L362.9,521.3 L364.5,522.4 L366.0,523.6 L367.6,524.8 L369.1,526.0 L370.6,527.3 L372.2,528.5 L373.7,529.8 L375.1,531.1 L376.6,532.4 L378.1,533.7 L379.5,535.1 L380.9,536.4 L382.4,537.8 L383.8,539.2 L385.2,540.6 L386.5,542.0 L387.9,543.4 L389.2,544.9 L390.6,546.4 L391.9,547.8 L393.2,549.3 L394.5,550.8 L395.8,552.4 L397.1,553.9 L398.3,555.5 L399.6,557.0 L400.8,558.6 L402.0,560.2 L403.3,561.8 L404.5,563.4 L405.6,565.0 L406.8,566.7 L408.0,568.3 L409.1,570.0 L410.3,571.6 L411.4,573.3 L412.5,575.0 L413.6,576.7 L414.7,578.4 L415.8,580.1 L416.9,581.9 L417.9,583.6 L419.0,585.4 L420.0,587.1 L421.0,588.9 L422.0,590.7 L423.1,592.4 L424.0,594.2 L425.0,596.0 L426.0,597.8 L427.0,599.6 L427.9,601.5 L428.8,603.3 L429.8,605.1 L430.7,607.0 L431.6,608.8 L432.5,610.7 L433.4,612.5 L434.3,614.4 L435.1,616.2 L436.0,618.1 L436.9,620.0 L437.7,621.9 L438.5,623.7 L439.3,625.6 L440.1,627.5 L440.9,629.4 L441.7,631.3 L442.4,633.2 L443.2,635.1 L443.9,637.0 L444.5,638.9 L445.2,640.9 L445.8,642.8 L446.4,644.7 L447.0,646.6 L447.5,648.5 L448.0,650.4 L448.4,652.4 L448.9,654.3 L449.2,656.2 L449.6,658.1 L449.9,660.1 L450.1,662.0 L450.3,663.9 L450.4,665.8 L450.5,667.7 L450.6,669.7 L450.6,671.6 L450.5,673.5 L450.4,675.4 L450.2,677.4 L450.0,679.3 L449.6,681.2 L449.3,683.1 L448.8,685.0 L448.3,686.9 L447.8,688.8 L447.1,690.6 L446.4,692.5 L445.6,694.3 L444.8,696.0 L443.9,697.8 L442.9,699.4 L441.8,701.1 L440.7,702.7 L439.5,704.2 L438.2,705.7 L436.9,707.1 L435.5,708.5 L434.0,709.8 L432.5,711.1 L430.9,712.3 L429.3,713.4 L427.7,714.5 L426.0,715.6 L424.3,716.6 L422.6,717.6 L420.8,718.5 L419.0,719.4 L417.2,720.2 L415.3,721.0 L413.5,721.7 L411.6,722.4 L409.7,723.0 L407.8,723.6 L405.9,724.2 L404.0,724.8 L402.0,725.3 L400.1,725.7 L398.1,726.2 L396.1,726.6 L394.1,727.0 L392.1,727.4 L390.1,727.7 L388.1,728.0 L386.0,728.3 L384.0,728.6 L382.0,728.9 L379.9,729.2 L377.9,729.4 L375.8,729.6 L373.8,729.9 L371.7,730.1 L369.7,730.3 L367.7,730.5 L365.6,730.7 L363.6,730.9 L361.5,731.1 L359.5,731.3 L357.5,731.5 L355.5,731.7 L353.5,731.9 L351.4,732.1 L349.5,732.3 L347.5,732.6 L345.5,732.8 L343.5,733.0 L341.5,733.3 L339.5,733.5 L337.6,733.8 L335.6,734.0 L333.6,734.3 L331.7,734.6 L329.7,734.8 L327.8,735.1 L325.8,735.3 L323.9,735.6 L321.9,735.9 L320.0,736.1 L318.0,736.4 L316.1,736.7 L314.1,737.0 L312.2,737.2 L310.2,737.5" fill="none" stroke="#1e1e1e" stroke-width="1.35" stroke-linecap="butt" stroke-linejoin="round" opacity="1.00"/>
<path d="M204.5,555.3 L206.2,554.2 L207.9,553.1 L209.6,552.1 L211.2,551.0 L213.0,550.0 L214.7,549.0 L216.4,547.9 L218.1,546.9 L219.9,545.9 L221.7,545.0 L223.4,544.0 L225.2,543.0 L227.0,542.1 L228.8,541.2 L230.6,540.3 L232.5,539.4 L234.3,538.5 L236.2,537.6 L238.0,536.8 L239.9,536.0 L241.7,535.2 L243.6,534.4 L245.5,533.6 L247.4,532.9 L249.3,532.2 L251.2,531.5 L253.1,530.8 L255.0,530.1 L256.9,529.5 L258.9,528.9 L260.8,528.3 L262.7,527.8 L264.7,527.3 L266.6,526.8 L268.6,526.3 L270.5,525.9 L272.5,525.5 L274.4,525.1 L276.4,524.7 L278.4,524.4 L280.3,524.1 L282.3,523.9 L284.3,523.7 L286.3,523.5 L288.2,523.3 L290.2,523.2 L292.2,523.1 L294.2,523.1 L296.1,523.1 L298.1,523.1 L300.1,523.2 L302.1,523.3 L304.0,523.4 L306.0,523.6 L308.0,523.8 L309.9,524.1 L311.9,524.4 L313.9,524.8 L315.8,525.1 L317.8,525.6 L319.7,526.0 L321.7,526.5 L323.6,527.0 L325.5,527.6 L327.4,528.2 L329.3,528.9 L331.2,529.5 L333.1,530.2 L335.0,531.0 L336.8,531.8 L338.7,532.6 L340.5,533.4 L342.3,534.3 L344.1,535.2 L345.9,536.1 L347.7,537.0 L349.5,538.0 L351.2,539.0 L353.0,540.0 L354.7,541.1 L356.4,542.1 L358.1,543.2 L359.8,544.3 L361.5,545.4 L363.2,546.5 L364.9,547.6 L366.5,548.7 L368.2,549.8 L369.9,551.0 L371.5,552.1 L373.1,553.3 L374.8,554.5 L376.4,555.6 L378.0,556.8 L379.6,558.0 L381.2,559.3 L382.7,560.5 L384.3,561.7 L385.9,563.0 L387.4,564.2 L388.9,565.5 L390.5,566.8 L392.0,568.1 L393.5,569.4 L394.9,570.7 L396.4,572.1 L397.9,573.4 L399.3,574.8 L400.8,576.2 L402.2,577.6 L403.6,579.0 L405.0,580.4 L406.4,581.9 L407.7,583.3 L409.1,584.8 L410.4,586.3 L411.8,587.8 L413.1,589.3 L414.4,590.9 L415.6,592.4 L416.9,594.0 L418.2,595.6 L419.4,597.2 L420.6,598.9 L421.8,600.5 L423.0,602.2 L424.2,603.9 L425.3,605.6 L426.4,607.3 L427.5,609.0 L428.6,610.8 L429.6,612.5 L430.7,614.3 L431.7,616.1 L432.6,617.9 L433.6,619.8 L434.5,621.6 L435.4,623.4 L436.2,625.3 L437.0,627.2 L437.8,629.1 L438.5,630.9 L439.2,632.8 L439.8,634.8 L440.4,636.7 L441.0,638.6 L441.5,640.5 L442.0,642.5 L442.4,644.4 L442.8,646.4 L443.1,648.3 L443.3,650.3 L443.5,652.3 L443.7,654.2 L443.8,656.2 L443.8,658.2 L443.8,660.2 L443.7,662.1 L443.6,664.1 L443.4,666.1 L443.1,668.1 L442.8,670.0 L442.5,672.0 L442.0,673.9 L441.5,675.9 L441.0,677.8 L440.4,679.7 L439.8,681.6 L439.0,683.4 L438.3,685.3 L437.5,687.1 L436.6,688.9 L435.7,690.6 L434.8,692.4 L433.7,694.1 L432.7,695.7 L431.6,697.4 L430.4,699.0 L429.2,700.5 L428.0,702.0 L426.7,703.5 L425.4,704.9 L424.0,706.3 L422.6,707.6 L421.1,708.9 L419.6,710.1 L418.1,711.3 L416.5,712.4 L414.9,713.4 L413.3,714.4 L411.6,715.4 L409.9,716.3 L408.1,717.2 L406.3,718.0 L404.5,718.8 L402.7,719.5 L400.8,720.2 L398.9,720.9 L397.0,721.5 L395.1,722.1 L393.1,722.7 L391.2,723.2 L389.2,723.7 L387.2,724.2 L385.2,724.7 L383.2,725.1 L381.1,725.5 L379.1,725.9 L377.0,726.3 L375.0,726.6 L372.9,727.0 L370.8,727.3 L368.7,727.6 L366.7,727.9 L364.6,728.2 L362.5,728.5 L360.4,728.8 L358.4,729.0 L356.3,729.3 L354.3,729.6 L352.2,729.8 L350.2,730.1 L348.1,730.3 L346.1,730.6 L344.0,730.8 L342.0,731.1 L340.0,731.3 L338.0,731.6 L335.9,731.8 L333.9,732.0 L331.9,732.3 L329.9,732.5 L327.9,732.7 L325.9,732.9 L323.9,733.2 L321.9,733.4 L319.9,733.6 L318.0,733.8 L316.0,734.0 L314.0,734.2 L312.0,734.4 L310.0,734.7 L308.1,734.9 L306.1,735.1 L304.1,735.3 L302.2,735.5 L300.2,735.7 L298.2,735.9 L296.3,736.1 L294.3,736.3 L292.4,736.5 L290.4,736.7 L288.4,736.9 L286.5,737.0 L284.5,737.2 L282.6,737.4 L280.6,737.6 L278.7,737.8 L276.7,738.0 L274.8,738.2 L272.8,738.4 L270.9,738.6 L268.9,738.8 L267.0,739.0 L265.0,739.2" fill="none" stroke="#2a2a2a" stroke-width="1.25" stroke-linecap="butt" stroke-linejoin="round" opacity="1.00"/>
<path d="M78.9,695.2 L80.3,693.8 L81.7,692.4 L83.1,691.0 L84.6,689.6 L86.0,688.2 L87.4,686.8 L88.9,685.4 L90.3,684.0 L91.7,682.6 L93.2,681.3 L94.6,679.9 L96.1,678.5 L97.5,677.2 L99.0,675.8 L100.4,674.4 L101.9,673.1 L103.4,671.7 L104.8,670.4 L106.3,669.0 L107.8,667.7 L109.2,666.3 L110.7,665.0 L112.2,663.7 L113.7,662.3 L115.2,661.0 L116.6,659.7 L118.1,658.4 L119.6,657.0 L121.1,655.7 L122.6,654.4 L124.1,653.1 L125.6,651.8 L127.1,650.5 L128.7,649.2 L130.2,647.9 L131.7,646.6 L133.2,645.3 L134.7,644.0 L136.3,642.7 L137.8,641.4 L139.3,640.1 L140.9,638.8 L142.4,637.6 L144.0,636.3 L145.5,635.0 L147.1,633.7 L148.6,632.5 L150.2,631.2 L151.8,629.9 L153.3,628.7 L154.9,627.4 L156.5,626.2 L158.1,624.9 L159.7,623.7 L161.2,622.5 L162.8,621.3 L164.4,620.0 L166.1,618.8 L167.7,617.6 L169.3,616.4 L170.9,615.2 L172.5,614.1 L174.2,612.9 L175.8,611.7 L177.5,610.6 L179.1,609.4 L180.8,608.3 L182.4,607.2 L184.1,606.0 L185.8,604.9 L187.4,603.8 L189.1,602.7 L190.8,601.7 L192.5,600.6 L194.2,599.5 L196.0,598.5 L197.7,597.5 L199.4,596.5 L201.1,595.5 L202.9,594.5 L204.6,593.5 L206.4,592.5 L208.1,591.6 L209.9,590.6 L211.7,589.7 L213.5,588.8 L215.3,587.9 L217.1,587.0 L218.9,586.2 L220.7,585.3 L222.5,584.5 L224.4,583.7 L226.2,582.9 L228.1,582.1 L229.9,581.3 L231.8,580.6 L233.7,579.8 L235.6,579.1 L237.5,578.4 L239.4,577.8 L241.3,577.1 L243.2,576.5 L245.1,575.8 L247.0,575.2 L249.0,574.7 L250.9,574.1 L252.8,573.5 L254.8,573.0 L256.7,572.5 L258.7,572.0 L260.7,571.5 L262.6,571.1 L264.6,570.7 L266.6,570.3 L268.5,569.9 L270.5,569.5 L272.5,569.2 L274.5,568.8 L276.5,568.5 L278.4,568.3 L280.4,568.0 L282.4,567.8 L284.4,567.5 L286.4,567.4 L288.4,567.2 L290.4,567.0 L292.4,566.9 L294.3,566.8 L296.3,566.7 L298.3,566.7 L300.3,566.6 L302.3,566.6 L304.3,566.6 L306.3,566.7 L308.2,566.7 L310.2,566.8 L312.2,566.9 L314.1,567.1 L316.1,567.2 L318.1,567.4 L320.0,567.6 L322.0,567.9 L323.9,568.1 L325.9,568.4 L327.8,568.7 L329.8,569.1 L331.7,569.4 L333.6,569.8 L335.5,570.3 L337.4,570.7 L339.3,571.2 L341.2,571.7 L343.1,572.2 L345.0,572.8 L346.9,573.3 L348.8,573.9 L350.6,574.6 L352.5,575.3 L354.3,575.9 L356.1,576.7 L358.0,577.4 L359.8,578.2 L361.6,579.0 L363.4,579.9 L365.2,580.7 L366.9,581.6 L368.7,582.6 L370.4,583.5 L372.2,584.5 L373.9,585.5 L375.6,586.6 L377.3,587.7 L379.0,588.8 L380.7,589.9 L382.4,591.1 L384.0,592.3 L385.7,593.5 L387.3,594.8 L388.9,596.0 L390.5,597.3 L392.1,598.7 L393.7,600.0 L395.2,601.4 L396.8,602.7 L398.4,604.1 L399.9,605.5 L401.4,606.9 L402.9,608.4 L404.5,609.8 L406.0,611.2 L407.4,612.7 L408.9,614.1 L410.4,615.5 L411.9,617.0 L413.3,618.4 L414.8,619.8 L416.2,621.3 L417.7,622.7 L419.1,624.1 L420.5,625.5 L421.9,626.9 L423.3,628.3 L424.7,629.7 L426.0,631.2 L427.4,632.6 L428.7,634.1 L429.9,635.5 L431.2,637.0 L432.4,638.5 L433.6,640.1 L434.7,641.7 L435.8,643.3 L436.9,644.9 L437.9,646.6 L438.9,648.4 L439.8,650.2 L440.7,652.0 L441.5,653.9 L442.3,655.8 L443.0,657.8 L443.6,659.7 L444.2,661.7 L444.8,663.7 L445.3,665.8 L445.7,667.8 L446.1,669.9 L446.4,671.9 L446.6,674.0 L446.8,676.0 L446.9,678.1 L447.0,680.1 L447.0,682.2 L446.9,684.2 L446.8,686.2 L446.5,688.2 L446.3,690.1 L445.9,692.0 L445.5,693.9 L445.0,695.7 L444.4,697.5 L443.7,699.3 L443.0,701.0 L442.2,702.6 L441.3,704.2 L440.4,705.7 L439.3,707.2 L438.2,708.6 L437.0,710.0 L435.7,711.3 L434.4,712.5 L433.0,713.7 L431.6,714.8 L430.1,715.9 L428.5,717.0 L426.9,718.0 L425.2,718.9 L423.5,719.8 L421.7,720.7 L419.9,721.5 L418.0,722.3 L416.1,723.0 L414.2,723.7 L412.2,724.4 L410.3,725.0 L408.2,725.6 L406.2,726.2 L404.1,726.7 L402.1,727.2 L400.0,727.7 L397.9,728.2 L395.7,728.6 L393.6,729.0 L391.5,729.4 L389.3,729.8 L387.2,730.2 L385.1,730.5 L382.9,730.8 L380.8,731.2 L378.7,731.5 L376.6,731.7 L374.5,732.0 L372.5,732.3 L370.4,732.6 L368.4,732.8 L366.4,733.1 L364.4,733.4 L362.5,733.6 L360.5,733.9 L358.6,734.1 L356.6,734.3 L354.7,734.6 L352.8,734.8 L350.9,735.0 L349.0,735.3 L347.1,735.5 L345.2,735.7 L343.3,735.9 L341.4,736.2 L339.5,736.4 L337.6,736.6 L335.7,736.8 L333.9,737.1" fill="none" stroke="#333" stroke-width="1.40" stroke-dasharray="5 2 1.5 2" stroke-linecap="butt" stroke-linejoin="round" opacity="1.00"/>
<rect x="393" y="473.4" width="75" height="36.8" fill="#fff" stroke="#2a2a2a" stroke-width="1.4"/>
<line x1="398.5" y1="479.5" x2="415.5" y2="479.5" stroke="#333" stroke-width="1.2" stroke-dasharray="3 1 1 1"/>
<text x="421" y="482.5" font-size="8.5" font-family="Liberation Sans, sans-serif" fill="#222">R<tspan font-size="6.5" dy="3">SB</tspan><tspan dy="-3"> = 0.5</tspan></text>
<line x1="398.5" y1="490.5" x2="415.5" y2="490.5" stroke="#333" stroke-width="1.2"/>
<text x="421" y="493.5" font-size="8.5" font-family="Liberation Sans, sans-serif" fill="#222">R<tspan font-size="6.5" dy="3">SB</tspan><tspan dy="-3"> = 1</tspan></text>
<line x1="398.5" y1="501.5" x2="415.5" y2="501.5" stroke="#333" stroke-width="1.2" stroke-dasharray="1 2 3 2"/>
<text x="421" y="504.5" font-size="8.5" font-family="Liberation Sans, sans-serif" fill="#222">R<tspan font-size="6.5" dy="3">SB</tspan><tspan dy="-3"> = 2</tspan></text>
<polygon points="584.7,470.8 995.0,471.2 992.5,736.4 582.0,735.9" fill="none" stroke="#3a3a3a" stroke-width="1.40"/>
<text x="582.0" y="745.4" text-anchor="middle" font-size="8.5" font-family="Liberation Sans, sans-serif" fill="#222" stroke="#222" stroke-width="0.15">0</text>
<line x1="640.6" y1="736.0" x2="640.6" y2="732.5" stroke="#3a3a3a" stroke-width="1.1"/>
<line x1="643.3" y1="470.9" x2="643.3" y2="474.4" stroke="#3a3a3a" stroke-width="1.1"/>
<text x="640.6" y="745.5" text-anchor="middle" font-size="8.5" font-family="Liberation Sans, sans-serif" fill="#222" stroke="#222" stroke-width="0.15">5</text>
<line x1="699.3" y1="736.0" x2="699.3" y2="732.5" stroke="#3a3a3a" stroke-width="1.1"/>
<line x1="701.9" y1="470.9" x2="701.9" y2="474.4" stroke="#3a3a3a" stroke-width="1.1"/>
<text x="699.3" y="745.5" text-anchor="middle" font-size="8.5" font-family="Liberation Sans, sans-serif" fill="#222" stroke="#222" stroke-width="0.15">10</text>
<line x1="757.9" y1="736.1" x2="757.9" y2="732.6" stroke="#3a3a3a" stroke-width="1.1"/>
<line x1="760.5" y1="471.0" x2="760.5" y2="474.5" stroke="#3a3a3a" stroke-width="1.1"/>
<text x="757.9" y="745.6" text-anchor="middle" font-size="8.5" font-family="Liberation Sans, sans-serif" fill="#222" stroke="#222" stroke-width="0.15">15</text>
<line x1="816.6" y1="736.2" x2="816.6" y2="732.7" stroke="#3a3a3a" stroke-width="1.1"/>
<line x1="819.2" y1="471.0" x2="819.2" y2="474.5" stroke="#3a3a3a" stroke-width="1.1"/>
<text x="816.6" y="745.7" text-anchor="middle" font-size="8.5" font-family="Liberation Sans, sans-serif" fill="#222" stroke="#222" stroke-width="0.15">20</text>
<line x1="875.2" y1="736.3" x2="875.2" y2="732.8" stroke="#3a3a3a" stroke-width="1.1"/>
<line x1="877.8" y1="471.1" x2="877.8" y2="474.6" stroke="#3a3a3a" stroke-width="1.1"/>
<text x="875.2" y="745.8" text-anchor="middle" font-size="8.5" font-family="Liberation Sans, sans-serif" fill="#222" stroke="#222" stroke-width="0.15">25</text>
<line x1="933.9" y1="736.3" x2="933.9" y2="732.8" stroke="#3a3a3a" stroke-width="1.1"/>
<line x1="936.4" y1="471.1" x2="936.4" y2="474.6" stroke="#3a3a3a" stroke-width="1.1"/>
<text x="933.9" y="745.8" text-anchor="middle" font-size="8.5" font-family="Liberation Sans, sans-serif" fill="#222" stroke="#222" stroke-width="0.15">30</text>
<text x="992.5" y="745.9" text-anchor="middle" font-size="8.5" font-family="Liberation Sans, sans-serif" fill="#222" stroke="#222" stroke-width="0.15">35</text>
<text x="578.5" y="738.5" text-anchor="end" font-size="8.5" font-family="Liberation Sans, sans-serif" fill="#222" stroke="#222" stroke-width="0.15">0</text>
<line x1="582.3" y1="702.8" x2="585.8" y2="702.8" stroke="#3a3a3a" stroke-width="1.1"/>
<line x1="992.8" y1="703.2" x2="989.3" y2="703.2" stroke="#3a3a3a" stroke-width="1.1"/>
<text x="578.8" y="705.4" text-anchor="end" font-size="8.5" font-family="Liberation Sans, sans-serif" fill="#222" stroke="#222" stroke-width="0.15">2</text>
<line x1="582.7" y1="669.6" x2="586.2" y2="669.6" stroke="#3a3a3a" stroke-width="1.1"/>
<line x1="993.1" y1="670.1" x2="989.6" y2="670.1" stroke="#3a3a3a" stroke-width="1.1"/>
<text x="579.2" y="672.2" text-anchor="end" font-size="8.5" font-family="Liberation Sans, sans-serif" fill="#222" stroke="#222" stroke-width="0.15">4</text>
<line x1="583.0" y1="636.5" x2="586.5" y2="636.5" stroke="#3a3a3a" stroke-width="1.1"/>
<line x1="993.4" y1="637.0" x2="989.9" y2="637.0" stroke="#3a3a3a" stroke-width="1.1"/>
<text x="579.5" y="639.1" text-anchor="end" font-size="8.5" font-family="Liberation Sans, sans-serif" fill="#222" stroke="#222" stroke-width="0.15">6</text>
<line x1="583.4" y1="603.4" x2="586.9" y2="603.4" stroke="#3a3a3a" stroke-width="1.1"/>
<line x1="993.8" y1="603.8" x2="990.2" y2="603.8" stroke="#3a3a3a" stroke-width="1.1"/>
<text x="579.9" y="606.0" text-anchor="end" font-size="8.5" font-family="Liberation Sans, sans-serif" fill="#222" stroke="#222" stroke-width="0.15">8</text>
<line x1="583.7" y1="570.2" x2="587.2" y2="570.2" stroke="#3a3a3a" stroke-width="1.1"/>
<line x1="994.1" y1="570.6" x2="990.6" y2="570.6" stroke="#3a3a3a" stroke-width="1.1"/>
<text x="580.2" y="572.8" text-anchor="end" font-size="8.5" font-family="Liberation Sans, sans-serif" fill="#222" stroke="#222" stroke-width="0.15">10</text>
<line x1="584.0" y1="537.1" x2="587.5" y2="537.1" stroke="#3a3a3a" stroke-width="1.1"/>
<line x1="994.4" y1="537.5" x2="990.9" y2="537.5" stroke="#3a3a3a" stroke-width="1.1"/>
<text x="580.5" y="539.7" text-anchor="end" font-size="8.5" font-family="Liberation Sans, sans-serif" fill="#222" stroke="#222" stroke-width="0.15">12</text>
<line x1="584.4" y1="503.9" x2="587.9" y2="503.9" stroke="#3a3a3a" stroke-width="1.1"/>
<line x1="994.7" y1="504.4" x2="991.2" y2="504.4" stroke="#3a3a3a" stroke-width="1.1"/>
<text x="580.9" y="506.5" text-anchor="end" font-size="8.5" font-family="Liberation Sans, sans-serif" fill="#222" stroke="#222" stroke-width="0.15">14</text>
<text x="581.2" y="473.4" text-anchor="end" font-size="8.5" font-family="Liberation Sans, sans-serif" fill="#222" stroke="#222" stroke-width="0.15">16</text>
<text transform="translate(564.5,602.0) rotate(-90)" font-size="8.00" font-family="'Liberation Sans', sans-serif" text-anchor="middle" textLength="77.5" lengthAdjust="spacingAndGlyphs" fill="#222" stroke="#222" stroke-width="0.15">Specific Power in kW/L</text>
<text x="757.8" y="758.9" font-size="8.50" font-family="'Liberation Sans', sans-serif" text-anchor="start" textLength="59.4" lengthAdjust="spacingAndGlyphs" fill="#222" stroke="#222" stroke-width="0.15">Efficiency in %</text>
<text x="738.4" y="465.6" font-size="8.80" font-family="'Liberation Sans', sans-serif" text-anchor="start" textLength="104.0" lengthAdjust="spacingAndGlyphs" fill="#222" stroke="#222" stroke-width="0.15">Cylinder volume influence</text>
<path d="M764.7,500.2 L766.4,499.3 L768.1,498.3 L769.8,497.4 L771.6,496.5 L773.4,495.7 L775.2,494.8 L777.1,494.1 L778.9,493.3 L780.8,492.6 L782.7,491.9 L784.6,491.2 L786.6,490.6 L788.5,490.0 L790.5,489.4 L792.4,488.9 L794.4,488.4 L796.4,487.9 L798.4,487.5 L800.4,487.1 L802.4,486.7 L804.5,486.4 L806.5,486.1 L808.5,485.8 L810.6,485.6 L812.6,485.4 L814.6,485.3 L816.7,485.1 L818.7,485.1 L820.7,485.0 L822.8,485.0 L824.8,485.0 L826.8,485.1 L828.8,485.2 L830.8,485.3 L832.8,485.5 L834.8,485.7 L836.8,485.9 L838.8,486.2 L840.7,486.5 L842.7,486.9 L844.6,487.3 L846.5,487.7 L848.4,488.2 L850.3,488.7 L852.1,489.2 L854.0,489.8 L855.8,490.4 L857.7,491.0 L859.5,491.7 L861.3,492.4 L863.0,493.2 L864.8,493.9 L866.6,494.7 L868.3,495.6 L870.0,496.4 L871.8,497.3 L873.5,498.3 L875.1,499.2 L876.8,500.2 L878.5,501.2 L880.1,502.3 L881.7,503.3 L883.4,504.4 L885.0,505.6 L886.5,506.7 L888.1,507.9 L889.7,509.1 L891.2,510.3 L892.8,511.5 L894.3,512.8 L895.8,514.1 L897.3,515.4 L898.7,516.8 L900.2,518.1 L901.6,519.5 L903.1,520.9 L904.5,522.3 L905.9,523.8 L907.3,525.2 L908.7,526.7 L910.0,528.2 L911.4,529.7 L912.7,531.3 L914.0,532.8 L915.3,534.4 L916.6,536.0 L917.9,537.6 L919.1,539.2 L920.4,540.8 L921.6,542.5 L922.8,544.1 L924.0,545.8 L925.2,547.5 L926.4,549.2 L927.6,550.9 L928.7,552.6 L929.8,554.4 L931.0,556.1 L932.1,557.9 L933.1,559.6 L934.2,561.4 L935.3,563.2 L936.3,564.9 L937.4,566.7 L938.4,568.5 L939.4,570.4 L940.4,572.2 L941.3,574.0 L942.3,575.8 L943.2,577.6 L944.2,579.5 L945.1,581.3 L946.0,583.2 L946.9,585.0 L947.8,586.8 L948.6,588.7 L949.5,590.6 L950.3,592.4 L951.1,594.3 L951.9,596.1 L952.6,598.0 L953.4,599.9 L954.1,601.7 L954.8,603.6 L955.5,605.5 L956.1,607.4 L956.8,609.2 L957.4,611.1 L958.0,613.0 L958.5,614.9 L959.0,616.8 L959.6,618.7 L960.0,620.6 L960.5,622.5 L960.9,624.4 L961.3,626.3 L961.6,628.2 L962.0,630.2 L962.2,632.1 L962.5,634.0 L962.7,635.9 L962.9,637.9 L963.1,639.8 L963.2,641.7 L963.3,643.7 L963.3,645.6 L963.3,647.6 L963.3,649.5 L963.2,651.5 L963.1,653.4 L962.9,655.4 L962.7,657.3 L962.5,659.3 L962.2,661.2 L961.9,663.2 L961.5,665.2 L961.1,667.2 L960.7,669.1 L960.1,671.1 L959.6,673.0 L959.0,675.0 L958.3,676.9 L957.5,678.8 L956.8,680.6 L955.9,682.5 L955.0,684.3 L954.0,686.0 L952.9,687.7 L951.8,689.4 L950.6,690.9 L949.3,692.5 L948.0,694.0 L946.6,695.4 L945.1,696.8 L943.6,698.1 L942.1,699.4 L940.6,700.6 L939.0,701.8 L937.4,703.0 L935.8,704.1 L934.2,705.2 L932.5,706.2 L930.8,707.2 L929.1,708.2 L927.4,709.1 L925.6,710.0 L923.8,710.8 L922.0,711.6 L920.2,712.4 L918.4,713.1 L916.6,713.8 L914.7,714.5 L912.8,715.2 L910.9,715.8 L909.0,716.4 L907.1,717.0 L905.2,717.5 L903.2,718.0 L901.2,718.5 L899.3,719.0 L897.3,719.4 L895.3,719.8 L893.3,720.2 L891.3,720.6 L889.3,721.0 L887.2,721.3 L885.2,721.7 L883.1,722.0 L881.1,722.3 L879.1,722.6 L877.0,722.8 L874.9,723.1 L872.9,723.3 L870.8,723.6 L868.7,723.8 L866.7,724.0 L864.6,724.2 L862.6,724.4 L860.5,724.6 L858.4,724.8 L856.4,725.0 L854.3,725.1 L852.3,725.3 L850.2,725.5 L848.2,725.7 L846.1,725.9 L844.1,726.0 L842.1,726.2 L840.1,726.4 L838.1,726.6 L836.1,726.8 L834.1,727.0 L832.1,727.1 L830.1,727.3 L828.1,727.5 L826.2,727.7 L824.2,727.9 L822.3,728.1 L820.3,728.4 L818.4,728.6 L816.4,728.8 L814.5,729.0 L812.6,729.2 L810.6,729.4 L808.7,729.6 L806.8,729.8 L804.9,730.1 L802.9,730.3 L801.0,730.5" fill="none" stroke="#1e1e1e" stroke-width="1.25" stroke-linecap="butt" stroke-linejoin="round" opacity="1.00"/>
<path d="M740.7,531.3 L742.3,530.3 L743.9,529.2 L745.6,528.2 L747.2,527.1 L748.9,526.1 L750.6,525.0 L752.3,523.9 L754.0,522.9 L755.7,521.8 L757.5,520.8 L759.3,519.8 L761.0,518.8 L762.8,517.7 L764.6,516.7 L766.4,515.8 L768.3,514.8 L770.1,513.8 L771.9,512.9 L773.8,511.9 L775.6,511.0 L777.5,510.1 L779.4,509.3 L781.3,508.4 L783.2,507.6 L785.1,506.8 L787.0,506.0 L788.9,505.2 L790.8,504.5 L792.8,503.8 L794.7,503.1 L796.6,502.4 L798.6,501.8 L800.5,501.2 L802.4,500.7 L804.4,500.2 L806.3,499.7 L808.3,499.2 L810.2,498.8 L812.2,498.5 L814.1,498.1 L816.1,497.8 L818.0,497.6 L820.0,497.4 L821.9,497.2 L823.8,497.1 L825.8,497.0 L827.7,497.0 L829.6,497.0 L831.6,497.0 L833.5,497.1 L835.4,497.2 L837.3,497.4 L839.2,497.6 L841.1,497.8 L843.0,498.1 L844.9,498.4 L846.8,498.8 L848.7,499.2 L850.6,499.6 L852.5,500.1 L854.3,500.5 L856.2,501.1 L858.0,501.6 L859.9,502.2 L861.7,502.9 L863.5,503.5 L865.4,504.2 L867.2,504.9 L869.0,505.7 L870.8,506.5 L872.6,507.3 L874.4,508.1 L876.1,509.0 L877.9,509.9 L879.6,510.8 L881.4,511.8 L883.1,512.8 L884.8,513.8 L886.5,514.8 L888.2,515.9 L889.9,517.0 L891.6,518.1 L893.3,519.2 L894.9,520.4 L896.6,521.6 L898.2,522.8 L899.8,524.0 L901.4,525.2 L903.0,526.5 L904.6,527.8 L906.2,529.1 L907.7,530.4 L909.2,531.8 L910.8,533.1 L912.3,534.5 L913.8,535.9 L915.3,537.3 L916.7,538.8 L918.2,540.2 L919.6,541.7 L921.0,543.2 L922.4,544.7 L923.8,546.2 L925.2,547.7 L926.5,549.2 L927.9,550.8 L929.2,552.3 L930.5,553.9 L931.8,555.5 L933.0,557.1 L934.3,558.7 L935.5,560.3 L936.7,561.9 L937.9,563.5 L939.1,565.2 L940.2,566.8 L941.3,568.5 L942.5,570.2 L943.6,571.8 L944.6,573.5 L945.7,575.2 L946.7,576.9 L947.8,578.6 L948.8,580.4 L949.7,582.1 L950.7,583.8 L951.7,585.6 L952.6,587.3 L953.5,589.1 L954.4,590.9 L955.2,592.7 L956.1,594.5 L956.9,596.3 L957.7,598.1 L958.5,599.9 L959.3,601.7 L960.1,603.6 L960.8,605.4 L961.5,607.3 L962.2,609.1 L962.9,611.0 L963.5,612.9 L964.2,614.8 L964.8,616.7 L965.4,618.6 L966.0,620.5 L966.5,622.4 L967.1,624.4 L967.6,626.3 L968.1,628.3 L968.6,630.2 L969.0,632.2 L969.5,634.2 L969.9,636.2 L970.3,638.2 L970.7,640.2 L971.0,642.2 L971.4,644.2 L971.7,646.2 L972.0,648.3 L972.2,650.3 L972.5,652.3 L972.7,654.3 L972.8,656.4 L972.9,658.4 L973.0,660.4 L973.0,662.4 L973.0,664.4 L972.9,666.3 L972.7,668.3 L972.5,670.3 L972.3,672.2 L972.0,674.1 L971.6,676.0 L971.1,677.8 L970.6,679.7 L970.0,681.5 L969.3,683.2 L968.5,685.0 L967.7,686.7 L966.8,688.4 L965.9,690.0 L964.8,691.7 L963.7,693.2 L962.6,694.8 L961.4,696.3 L960.1,697.7 L958.8,699.1 L957.4,700.5 L956.0,701.9 L954.5,703.1 L953.0,704.4 L951.4,705.6 L949.8,706.7 L948.2,707.8 L946.5,708.9 L944.8,709.9 L943.1,710.8 L941.3,711.7 L939.5,712.6 L937.7,713.4 L935.9,714.2 L934.0,714.9 L932.1,715.6 L930.2,716.2 L928.2,716.8 L926.3,717.4 L924.3,717.9 L922.3,718.5 L920.3,718.9 L918.3,719.4 L916.3,719.8 L914.2,720.2 L912.2,720.6 L910.1,720.9 L908.0,721.3 L906.0,721.6 L903.9,721.9 L901.8,722.1 L899.7,722.4 L897.6,722.7 L895.5,722.9 L893.4,723.1 L891.4,723.3 L889.3,723.6 L887.2,723.8 L885.1,724.0 L883.1,724.2 L881.0,724.4 L879.0,724.6 L877.0,724.8 L875.0,725.0 L873.0,725.2 L871.0,725.4 L869.0,725.6 L867.0,725.9 L865.1,726.1 L863.1,726.3 L861.2,726.5 L859.2,726.8 L857.3,727.0 L855.4,727.2 L853.4,727.4 L851.5,727.7 L849.6,727.9 L847.7,728.2 L845.8,728.4 L843.9,728.6 L842.0,728.9" fill="none" stroke="#2a2a2a" stroke-width="1.20" stroke-linecap="butt" stroke-linejoin="round" opacity="1.00"/>
<path d="M699.4,584.4 L700.9,583.2 L702.3,581.9 L703.8,580.6 L705.3,579.3 L706.8,578.0 L708.3,576.7 L709.8,575.4 L711.3,574.1 L712.8,572.8 L714.3,571.5 L715.8,570.2 L717.4,568.9 L718.9,567.6 L720.4,566.3 L721.9,565.0 L723.5,563.7 L725.0,562.3 L726.6,561.0 L728.1,559.7 L729.7,558.5 L731.3,557.2 L732.9,555.9 L734.4,554.6 L736.0,553.3 L737.6,552.1 L739.2,550.8 L740.8,549.6 L742.5,548.4 L744.1,547.2 L745.7,545.9 L747.4,544.8 L749.0,543.6 L750.7,542.4 L752.3,541.3 L754.0,540.1 L755.7,539.0 L757.3,537.9 L759.0,536.8 L760.7,535.7 L762.5,534.7 L764.2,533.7 L765.9,532.6 L767.6,531.6 L769.4,530.7 L771.1,529.7 L772.9,528.8 L774.7,527.9 L776.5,527.0 L778.3,526.2 L780.1,525.3 L781.9,524.5 L783.7,523.8 L785.5,523.0 L787.4,522.3 L789.2,521.6 L791.1,521.0 L793.0,520.3 L794.9,519.7 L796.8,519.2 L798.7,518.6 L800.6,518.1 L802.5,517.6 L804.4,517.2 L806.4,516.8 L808.3,516.4 L810.3,516.0 L812.2,515.7 L814.2,515.4 L816.2,515.1 L818.1,514.9 L820.1,514.7 L822.1,514.5 L824.1,514.4 L826.1,514.2 L828.1,514.1 L830.1,514.1 L832.1,514.0 L834.1,514.0 L836.1,514.1 L838.1,514.1 L840.1,514.2 L842.1,514.3 L844.1,514.4 L846.1,514.6 L848.1,514.8 L850.1,515.0 L852.0,515.3 L854.0,515.5 L856.0,515.8 L858.0,516.2 L860.0,516.5 L861.9,516.9 L863.9,517.3 L865.9,517.8 L867.8,518.3 L869.7,518.8 L871.7,519.3 L873.6,519.9 L875.5,520.4 L877.4,521.0 L879.3,521.7 L881.2,522.4 L883.1,523.0 L885.0,523.8 L886.8,524.5 L888.7,525.3 L890.5,526.1 L892.3,526.9 L894.2,527.8 L895.9,528.6 L897.7,529.5 L899.5,530.5 L901.3,531.4 L903.0,532.4 L904.7,533.4 L906.4,534.5 L908.1,535.5 L909.8,536.6 L911.4,537.7 L913.1,538.9 L914.7,540.0 L916.3,541.2 L917.9,542.4 L919.4,543.7 L921.0,545.0 L922.5,546.2 L924.0,547.6 L925.5,548.9 L926.9,550.3 L928.3,551.7 L929.8,553.1 L931.1,554.5 L932.5,556.0 L933.8,557.5 L935.1,559.0 L936.4,560.6 L937.7,562.1 L938.9,563.7 L940.1,565.3 L941.3,566.9 L942.5,568.6 L943.7,570.3 L944.8,571.9 L945.9,573.6 L947.0,575.3 L948.1,577.0 L949.2,578.8 L950.2,580.5 L951.3,582.2 L952.3,584.0 L953.4,585.7 L954.4,587.5 L955.4,589.2 L956.4,591.0 L957.4,592.7 L958.4,594.5 L959.4,596.2 L960.4,597.9 L961.4,599.6 L962.4,601.4 L963.4,603.1 L964.3,604.8 L965.3,606.5 L966.3,608.2 L967.2,610.0 L968.2,611.7 L969.1,613.4 L970.0,615.2 L970.9,616.9 L971.8,618.7 L972.7,620.4 L973.5,622.2 L974.4,624.0 L975.2,625.8 L976.0,627.7 L976.8,629.5 L977.5,631.4 L978.3,633.3 L979.0,635.2 L979.6,637.2 L980.3,639.1 L980.9,641.1 L981.5,643.1 L982.0,645.1 L982.5,647.1 L983.0,649.2 L983.4,651.2 L983.8,653.3 L984.2,655.3 L984.5,657.3 L984.7,659.4 L984.9,661.4 L985.1,663.5 L985.1,665.5 L985.2,667.5 L985.1,669.5 L985.1,671.4 L984.9,673.4 L984.7,675.3 L984.4,677.2 L984.0,679.1 L983.6,681.0 L983.1,682.8 L982.5,684.6 L981.9,686.3 L981.1,688.0 L980.3,689.7 L979.4,691.3 L978.4,692.9 L977.3,694.4 L976.2,695.9 L974.9,697.3 L973.6,698.7 L972.3,700.0 L970.8,701.3 L969.3,702.5 L967.8,703.7 L966.2,704.9 L964.5,706.0 L962.8,707.1 L961.1,708.1 L959.3,709.1 L957.5,710.0 L955.7,710.9 L953.9,711.8 L952.0,712.6 L950.1,713.4 L948.2,714.1 L946.3,714.8 L944.4,715.5 L942.5,716.1 L940.5,716.8 L938.5,717.3 L936.6,717.9 L934.6,718.4 L932.6,718.9 L930.6,719.4 L928.6,719.9 L926.6,720.3 L924.5,720.7 L922.5,721.1 L920.5,721.5 L918.5,721.9 L916.5,722.2 L914.4,722.6 L912.4,722.9 L910.4,723.2 L908.4,723.6 L906.4,723.9 L904.4,724.2 L902.4,724.5 L900.5,724.8 L898.5,725.1 L896.5,725.4 L894.6,725.7 L892.6,726.0 L890.7,726.3 L888.8,726.6 L886.8,726.9 L884.9,727.2 L883.0,727.5 L881.0,727.8 L879.1,728.1 L877.2,728.4" fill="none" stroke="#333" stroke-width="1.30" stroke-dasharray="5 2 1.5 2" stroke-linecap="butt" stroke-linejoin="round" opacity="1.00"/>
<path d="M743.9,544.5 L749,538.5 L754.1,533.6 L761,532 L768.1,530.9 L777.5,528.9" fill="none" stroke="#777" stroke-width="1.1"/>
<path d="M821.3,496.3 L826,493.5 L831,491.3 L838,489.8 L843.1,489.1 L839,491.5 L834,494.3" fill="none" stroke="#999" stroke-width="1"/>
<path d="M855,497 L860,494 L866,492.4" fill="none" stroke="#888" stroke-width="1.1"/>
<rect x="591.8" y="674.7" width="75" height="35.4" fill="#fff" stroke="#2a2a2a" stroke-width="1.4"/>
<line x1="597" y1="681.0" x2="613" y2="681.0" stroke="#333" stroke-width="1.2" stroke-dasharray="3 1 1 1"/>
<text x="617.5" y="684.0" font-size="8.5" font-family="Liberation Sans, sans-serif" fill="#222">V<tspan font-size="6.5" dy="3">cyl</tspan><tspan dy="-3"> = 0.25</tspan></text>
<line x1="597" y1="691.8" x2="613" y2="691.8" stroke="#333" stroke-width="1.2"/>
<text x="617.5" y="694.8" font-size="8.5" font-family="Liberation Sans, sans-serif" fill="#222">V<tspan font-size="6.5" dy="3">cyl</tspan><tspan dy="-3"> = 0.5</tspan></text>
<line x1="597" y1="702.6" x2="613" y2="702.6" stroke="#333" stroke-width="1.2" stroke-dasharray="1 2 3 2"/>
<text x="617.5" y="705.6" font-size="8.5" font-family="Liberation Sans, sans-serif" fill="#222">V<tspan font-size="6.5" dy="3">cyl</tspan><tspan dy="-3"> = 1</tspan></text>
<circle cx="287.5" cy="97.5" r="1.1" fill="#333"/>
<circle cx="172.5" cy="109.0" r="0.7" fill="#999"/>
<circle cx="143.5" cy="111.0" r="0.7" fill="#aaa"/>
<circle cx="537.0" cy="24.0" r="0.7" fill="#aaa"/>
<circle cx="308.6" cy="614.5" r="0.8" fill="#888"/>
<circle cx="383.8" cy="600.3" r="0.8" fill="#888"/>
<circle cx="389.0" cy="625.3" r="0.7" fill="#999"/>
<circle cx="436.2" cy="729.2" r="0.7" fill="#aaa"/>
<circle cx="813.8" cy="544.1" r="0.9" fill="#777"/>
<circle cx="768.4" cy="604.4" r="0.7" fill="#999"/>
<circle cx="891.2" cy="682.5" r="0.7" fill="#999"/>
<circle cx="783.4" cy="694.9" r="0.7" fill="#999"/>
<circle cx="953.8" cy="124.7" r="0.7" fill="#999"/>
<text x="49.8" y="359.5" font-family="Liberation Serif, serif" font-size="21" fill="#141414" stroke="#141414" stroke-width="0.12" textLength="389.8" lengthAdjust="spacingAndGlyphs">Figure 5.a. Volumetric ratio influence</text>
<text x="55.0" y="389.0" font-family="Liberation Serif, serif" font-size="21" fill="#141414" stroke="#141414" stroke-width="0.12" textLength="377.0" lengthAdjust="spacingAndGlyphs">for V<tspan font-size="13" dy="4" font-weight="bold">cyl</tspan><tspan dy="-4"> = 0,5 l, </tspan>R<tspan font-size="14" dy="3">SB</tspan><tspan dy="-3"> = 1, </tspan>T<tspan font-size="14" dy="3">W</tspan><tspan dy="-3"> = 480 K,</tspan></text>
<text x="150.8" y="414.5" font-family="Liberation Serif, serif" font-size="21" fill="#141414" stroke="#141414" stroke-width="0.12" textLength="182.4" lengthAdjust="spacingAndGlyphs"><tspan font-style="italic">ϕ</tspan> = 0,7,  <tspan font-style="italic">θ</tspan> <tspan font-size="14" dy="3">0</tspan><tspan dy="-3"> = - 5°</tspan></text>
<text x="590.7" y="358.8" font-family="Liberation Serif, serif" font-size="21" fill="#141414" stroke="#141414" stroke-width="0.12" textLength="395.3" lengthAdjust="spacingAndGlyphs">Figure 5.b. Ignition advance influence</text>
<text x="590.3" y="387.8" font-family="Liberation Serif, serif" font-size="21" fill="#141414" stroke="#141414" stroke-width="0.12" textLength="395.7" lengthAdjust="spacingAndGlyphs">for V<tspan font-size="13" dy="4" font-weight="bold">cyl</tspan><tspan dy="-4"> = 0,5 l, </tspan>R<tspan font-size="14" dy="3">SB</tspan><tspan dy="-3"> = 1, <tspan font-style="italic">ε</tspan>  = 16, </tspan>T<tspan font-size="14" dy="3">W</tspan><tspan dy="-3"> =</tspan></text>
<text x="708.3" y="414.5" font-family="Liberation Serif, serif" font-size="21" fill="#141414" stroke="#141414" stroke-width="0.12" textLength="158.2" lengthAdjust="spacingAndGlyphs">480 K, <tspan font-style="italic">ϕ</tspan> = 0,7</text>
<text x="38.6" y="798.2" font-family="Liberation Serif, serif" font-size="21" fill="#141414" stroke="#141414" stroke-width="0.12" textLength="392.7" lengthAdjust="spacingAndGlyphs">Figure 5.c. Stroke bore ratio influence</text>
<text x="44.6" y="827.6" font-family="Liberation Serif, serif" font-size="21" fill="#141414" stroke="#141414" stroke-width="0.12" textLength="379.4" lengthAdjust="spacingAndGlyphs">for V<tspan font-size="13" dy="4" font-weight="bold">cyl</tspan><tspan dy="-4"> = 0,5 l, <tspan font-style="italic">ε</tspan>  = 16, </tspan>T<tspan font-size="14" dy="3">W</tspan><tspan dy="-3"> = 480 K,</tspan></text>
<text x="137.0" y="855.6" font-family="Liberation Serif, serif" font-size="21" fill="#141414" stroke="#141414" stroke-width="0.12" textLength="191.5" lengthAdjust="spacingAndGlyphs"><tspan font-style="italic">ϕ</tspan> = 0,7,  <tspan font-style="italic">θ</tspan> <tspan font-size="14" dy="3">0</tspan><tspan dy="-3"> = - 5°</tspan></text>
<text x="580.7" y="794.1" font-family="Liberation Serif, serif" font-size="21" fill="#141414" stroke="#141414" stroke-width="0.12" textLength="396.3" lengthAdjust="spacingAndGlyphs">Figure 5.d. Cylinder volume influence</text>
<text x="580.7" y="820.5" font-family="Liberation Serif, serif" font-size="21" fill="#141414" stroke="#141414" stroke-width="0.12" textLength="393.3" lengthAdjust="spacingAndGlyphs">for R<tspan font-size="14" dy="3">SB</tspan><tspan dy="-3"> = 1, <tspan font-style="italic">ε</tspan>  = 16, </tspan>T<tspan font-size="14" dy="3">W</tspan><tspan dy="-3"> = 480 K, <tspan font-style="italic">ϕ</tspan>  =</tspan></text>
<text x="709.5" y="853.8" font-family="Liberation Serif, serif" font-size="21" fill="#141414" stroke="#141414" stroke-width="0.12" textLength="135.5" lengthAdjust="spacingAndGlyphs">0,7,  <tspan font-style="italic">θ</tspan> <tspan font-size="14" dy="3">0</tspan><tspan dy="-3"> = - 5°</tspan></text>
</svg>
</body></html>
